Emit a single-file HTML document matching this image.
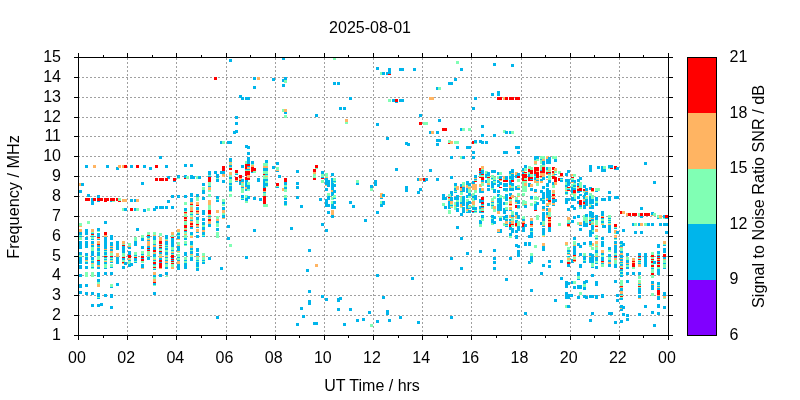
<!DOCTYPE html>
<html><head><meta charset="utf-8"><title>plot</title>
<style>
html,body{margin:0;padding:0;background:#fff;}
body{width:800px;height:400px;overflow:hidden;position:relative;font-family:"Liberation Sans",sans-serif;}
svg{position:absolute;left:0;top:0;}
text{font-family:"Liberation Sans",sans-serif;font-size:16px;fill:#000;}
</style></head><body>
<svg width="800" height="400" viewBox="0 0 800 400">
<rect width="800" height="400" fill="#fff"/>

<g stroke="#a0a0a0" stroke-width="1" stroke-dasharray="2,2" shape-rendering="crispEdges" fill="none">
<line x1="78" y1="315.5" x2="668" y2="315.5"/>
<line x1="78" y1="295.5" x2="668" y2="295.5"/>
<line x1="78" y1="275.5" x2="668" y2="275.5"/>
<line x1="78" y1="256.5" x2="668" y2="256.5"/>
<line x1="78" y1="236.5" x2="668" y2="236.5"/>
<line x1="78" y1="216.5" x2="668" y2="216.5"/>
<line x1="78" y1="196.5" x2="668" y2="196.5"/>
<line x1="78" y1="176.5" x2="668" y2="176.5"/>
<line x1="78" y1="156.5" x2="668" y2="156.5"/>
<line x1="78" y1="136.5" x2="668" y2="136.5"/>
<line x1="78" y1="117.5" x2="668" y2="117.5"/>
<line x1="78" y1="97.5" x2="668" y2="97.5"/>
<line x1="78" y1="77.5" x2="668" y2="77.5"/>
<line x1="127.5" y1="336" x2="127.5" y2="57"/>
<line x1="176.5" y1="336" x2="176.5" y2="57"/>
<line x1="226.5" y1="336" x2="226.5" y2="57"/>
<line x1="275.5" y1="336" x2="275.5" y2="57"/>
<line x1="324.5" y1="336" x2="324.5" y2="57"/>
<line x1="373.5" y1="336" x2="373.5" y2="57"/>
<line x1="422.5" y1="336" x2="422.5" y2="57"/>
<line x1="471.5" y1="336" x2="471.5" y2="57"/>
<line x1="521.5" y1="336" x2="521.5" y2="57"/>
<line x1="570.5" y1="336" x2="570.5" y2="57"/>
<line x1="619.5" y1="336" x2="619.5" y2="57"/>
</g>
<g shape-rendering="crispEdges" id="pts">
<rect x="214" y="77" width="3" height="3" fill="#ff0000"/>
<rect x="229" y="59" width="3" height="3" fill="#00b5eb"/>
<rect x="233" y="131" width="3" height="3" fill="#00b5eb"/>
<rect x="282" y="57" width="3" height="3" fill="#00b5eb"/>
<rect x="333" y="57" width="3" height="3" fill="#80ffb4"/>
<rect x="376" y="67" width="3" height="3" fill="#00b5eb"/>
<rect x="380" y="72" width="3" height="3" fill="#80ffb4"/>
<rect x="382" y="72" width="3" height="3" fill="#00b5eb"/>
<rect x="253" y="77" width="3" height="3" fill="#00b5eb"/>
<rect x="257" y="77" width="3" height="3" fill="#ffb462"/>
<rect x="272" y="78" width="3" height="3" fill="#00b5eb"/>
<rect x="282" y="79" width="3" height="3" fill="#00b5eb"/>
<rect x="284" y="80" width="3" height="3" fill="#80ffb4"/>
<rect x="284" y="77" width="3" height="3" fill="#00b5eb"/>
<rect x="282" y="84" width="3" height="3" fill="#00b5eb"/>
<rect x="253" y="86" width="3" height="3" fill="#00b5eb"/>
<rect x="333" y="82" width="3" height="3" fill="#00b5eb"/>
<rect x="337" y="82" width="3" height="3" fill="#00b5eb"/>
<rect x="239" y="95" width="3" height="3" fill="#00b5eb"/>
<rect x="241" y="97" width="3" height="3" fill="#00b5eb"/>
<rect x="245" y="97" width="5" height="3" fill="#00b5eb"/>
<rect x="349" y="97" width="3" height="3" fill="#00b5eb"/>
<rect x="339" y="107" width="3" height="3" fill="#00b5eb"/>
<rect x="343" y="107" width="3" height="3" fill="#00b5eb"/>
<rect x="282" y="109" width="3" height="3" fill="#80ffb4"/>
<rect x="284" y="111" width="3" height="3" fill="#00b5eb"/>
<rect x="284" y="109" width="3" height="3" fill="#ffb462"/>
<rect x="284" y="115" width="3" height="3" fill="#80ffb4"/>
<rect x="315" y="114" width="3" height="3" fill="#00b5eb"/>
<rect x="345" y="121" width="3" height="3" fill="#80ffb4"/>
<rect x="345" y="119" width="3" height="3" fill="#ffb462"/>
<rect x="235" y="116" width="3" height="3" fill="#00b5eb"/>
<rect x="235" y="122" width="3" height="3" fill="#00b5eb"/>
<rect x="235" y="130" width="3" height="3" fill="#00b5eb"/>
<rect x="386" y="72" width="3" height="3" fill="#00b5eb"/>
<rect x="388" y="72" width="3" height="3" fill="#ff0000"/>
<rect x="388" y="68" width="3" height="6" fill="#00b5eb"/>
<rect x="399" y="68" width="5" height="3" fill="#00b5eb"/>
<rect x="413" y="68" width="3" height="3" fill="#00b5eb"/>
<rect x="448" y="82" width="3" height="3" fill="#00b5eb"/>
<rect x="436" y="87" width="3" height="3" fill="#00b5eb"/>
<rect x="438" y="87" width="3" height="3" fill="#80ffb4"/>
<rect x="456" y="61" width="3" height="3" fill="#80ffb4"/>
<rect x="460" y="68" width="3" height="3" fill="#00b5eb"/>
<rect x="454" y="78" width="3" height="3" fill="#00b5eb"/>
<rect x="493" y="63" width="3" height="3" fill="#00b5eb"/>
<rect x="511" y="64" width="3" height="3" fill="#00b5eb"/>
<rect x="491" y="93" width="3" height="3" fill="#00b5eb"/>
<rect x="497" y="91" width="3" height="5" fill="#00b5eb"/>
<rect x="388" y="99" width="3" height="3" fill="#80ffb4"/>
<rect x="392" y="99" width="3" height="3" fill="#00b5eb"/>
<rect x="395" y="100" width="3" height="3" fill="#00b5eb"/>
<rect x="395" y="99" width="3" height="3" fill="#ff0000"/>
<rect x="399" y="99" width="5" height="3" fill="#00b5eb"/>
<rect x="429" y="97" width="5" height="3" fill="#ffb462"/>
<rect x="419" y="114" width="3" height="3" fill="#00b5eb"/>
<rect x="376" y="123" width="3" height="3" fill="#00b5eb"/>
<rect x="423" y="122" width="5" height="3" fill="#80ffb4"/>
<rect x="419" y="122" width="3" height="3" fill="#ff0000"/>
<rect x="438" y="119" width="3" height="3" fill="#00b5eb"/>
<rect x="442" y="128" width="5" height="3" fill="#ff0000"/>
<rect x="429" y="131" width="3" height="3" fill="#00b5eb"/>
<rect x="431" y="131" width="3" height="3" fill="#ffb462"/>
<rect x="436" y="131" width="3" height="3" fill="#00b5eb"/>
<rect x="474" y="97" width="3" height="3" fill="#00b5eb"/>
<rect x="497" y="97" width="5" height="3" fill="#ff0000"/>
<rect x="503" y="97" width="3" height="3" fill="#ffb462"/>
<rect x="505" y="97" width="3" height="3" fill="#ff0000"/>
<rect x="509" y="97" width="5" height="3" fill="#ff0000"/>
<rect x="515" y="97" width="5" height="3" fill="#ff0000"/>
<rect x="472" y="107" width="3" height="3" fill="#00b5eb"/>
<rect x="481" y="125" width="3" height="3" fill="#00b5eb"/>
<rect x="460" y="128" width="3" height="3" fill="#00b5eb"/>
<rect x="462" y="128" width="3" height="3" fill="#80ffb4"/>
<rect x="468" y="128" width="3" height="3" fill="#80ffb4"/>
<rect x="503" y="130" width="3" height="3" fill="#80ffb4"/>
<rect x="505" y="131" width="3" height="3" fill="#00b5eb"/>
<rect x="509" y="131" width="3" height="3" fill="#00b5eb"/>
<rect x="511" y="131" width="3" height="3" fill="#80ffb4"/>
<rect x="481" y="134" width="3" height="3" fill="#00b5eb"/>
<rect x="493" y="134" width="3" height="3" fill="#00b5eb"/>
<rect x="85" y="165" width="3" height="3" fill="#00b5eb"/>
<rect x="93" y="165" width="3" height="3" fill="#ffb462"/>
<rect x="106" y="165" width="3" height="3" fill="#00b5eb"/>
<rect x="116" y="167" width="3" height="3" fill="#00b5eb"/>
<rect x="118" y="165" width="3" height="3" fill="#ffb462"/>
<rect x="122" y="165" width="3" height="3" fill="#ffb462"/>
<rect x="124" y="165" width="3" height="3" fill="#ff0000"/>
<rect x="130" y="165" width="3" height="3" fill="#00b5eb"/>
<rect x="136" y="165" width="3" height="3" fill="#ff0000"/>
<rect x="143" y="165" width="3" height="3" fill="#00b5eb"/>
<rect x="149" y="167" width="3" height="3" fill="#00b5eb"/>
<rect x="155" y="165" width="3" height="3" fill="#ff0000"/>
<rect x="159" y="156" width="3" height="3" fill="#00b5eb"/>
<rect x="165" y="165" width="3" height="3" fill="#00b5eb"/>
<rect x="184" y="164" width="3" height="3" fill="#00b5eb"/>
<rect x="190" y="164" width="3" height="3" fill="#00b5eb"/>
<rect x="220" y="141" width="3" height="3" fill="#00b5eb"/>
<rect x="222" y="141" width="3" height="3" fill="#80ffb4"/>
<rect x="227" y="141" width="5" height="3" fill="#00b5eb"/>
<rect x="208" y="171" width="3" height="5" fill="#00b5eb"/>
<rect x="214" y="171" width="3" height="3" fill="#00b5eb"/>
<rect x="216" y="174" width="3" height="3" fill="#00b5eb"/>
<rect x="220" y="171" width="5" height="3" fill="#00b5eb"/>
<rect x="222" y="166" width="3" height="5" fill="#ff0000"/>
<rect x="229" y="158" width="3" height="4" fill="#00b5eb"/>
<rect x="229" y="162" width="3" height="1" fill="#ffb462"/>
<rect x="229" y="163" width="3" height="1" fill="#80ffb4"/>
<rect x="229" y="164" width="3" height="1" fill="#ffb462"/>
<rect x="229" y="165" width="3" height="2" fill="#00b5eb"/>
<rect x="229" y="167" width="3" height="1" fill="#80ffb4"/>
<rect x="229" y="168" width="3" height="2" fill="#ff0000"/>
<rect x="229" y="172" width="3" height="3" fill="#ffb462"/>
<rect x="245" y="145" width="3" height="3" fill="#00b5eb"/>
<rect x="247" y="146" width="3" height="3" fill="#00b5eb"/>
<rect x="247" y="152" width="3" height="3" fill="#00b5eb"/>
<rect x="245" y="161" width="3" height="3" fill="#80ffb4"/>
<rect x="247" y="157" width="3" height="7" fill="#00b5eb"/>
<rect x="241" y="165" width="3" height="3" fill="#00b5eb"/>
<rect x="245" y="164" width="5" height="5" fill="#ff0000"/>
<rect x="247" y="166" width="3" height="1" fill="#00b5eb"/>
<rect x="247" y="167" width="3" height="2" fill="#ffb462"/>
<rect x="245" y="169" width="5" height="1" fill="#00b5eb"/>
<rect x="245" y="170" width="5" height="1" fill="#80ffb4"/>
<rect x="245" y="171" width="5" height="5" fill="#ff0000"/>
<rect x="235" y="170" width="3" height="3" fill="#ff0000"/>
<rect x="235" y="173" width="3" height="1" fill="#80ffb4"/>
<rect x="235" y="174" width="3" height="1" fill="#00b5eb"/>
<rect x="251" y="161" width="3" height="3" fill="#00b5eb"/>
<rect x="251" y="164" width="3" height="1" fill="#80ffb4"/>
<rect x="251" y="165" width="3" height="2" fill="#ffb462"/>
<rect x="251" y="167" width="3" height="5" fill="#ff0000"/>
<rect x="251" y="172" width="3" height="1" fill="#00b5eb"/>
<rect x="253" y="168" width="3" height="3" fill="#ff0000"/>
<rect x="253" y="171" width="3" height="2" fill="#80ffb4"/>
<rect x="265" y="160" width="3" height="3" fill="#00b5eb"/>
<rect x="263" y="163" width="5" height="3" fill="#80ffb4"/>
<rect x="263" y="166" width="5" height="2" fill="#ffb462"/>
<rect x="263" y="168" width="5" height="3" fill="#00b5eb"/>
<rect x="263" y="171" width="5" height="3" fill="#80ffb4"/>
<rect x="263" y="174" width="3" height="3" fill="#ff0000"/>
<rect x="265" y="174" width="3" height="3" fill="#00b5eb"/>
<rect x="272" y="166" width="3" height="3" fill="#00b5eb"/>
<rect x="276" y="162" width="3" height="3" fill="#00b5eb"/>
<rect x="276" y="167" width="3" height="3" fill="#80ffb4"/>
<rect x="276" y="170" width="3" height="1" fill="#ffb462"/>
<rect x="276" y="171" width="3" height="1" fill="#00b5eb"/>
<rect x="296" y="170" width="3" height="3" fill="#00b5eb"/>
<rect x="313" y="169" width="3" height="3" fill="#ff0000"/>
<rect x="313" y="172" width="3" height="2" fill="#ffb462"/>
<rect x="313" y="174" width="3" height="1" fill="#80ffb4"/>
<rect x="386" y="137" width="3" height="3" fill="#00b5eb"/>
<rect x="315" y="168" width="3" height="1" fill="#80ffb4"/>
<rect x="315" y="165" width="3" height="3" fill="#ff0000"/>
<rect x="321" y="174" width="3" height="1" fill="#80ffb4"/>
<rect x="321" y="171" width="3" height="3" fill="#00b5eb"/>
<rect x="325" y="173" width="3" height="3" fill="#80ffb4"/>
<rect x="331" y="173" width="3" height="3" fill="#00b5eb"/>
<rect x="405" y="142" width="3" height="3" fill="#00b5eb"/>
<rect x="407" y="143" width="3" height="3" fill="#00b5eb"/>
<rect x="436" y="139" width="5" height="3" fill="#00b5eb"/>
<rect x="436" y="143" width="3" height="3" fill="#00b5eb"/>
<rect x="448" y="143" width="3" height="1" fill="#ff0000"/>
<rect x="448" y="140" width="3" height="3" fill="#80ffb4"/>
<rect x="450" y="141" width="3" height="3" fill="#ffb462"/>
<rect x="454" y="141" width="5" height="3" fill="#80ffb4"/>
<rect x="472" y="141" width="3" height="3" fill="#ff0000"/>
<rect x="474" y="143" width="3" height="1" fill="#80ffb4"/>
<rect x="474" y="140" width="3" height="3" fill="#00b5eb"/>
<rect x="456" y="146" width="3" height="3" fill="#00b5eb"/>
<rect x="466" y="146" width="5" height="3" fill="#00b5eb"/>
<rect x="472" y="151" width="3" height="3" fill="#00b5eb"/>
<rect x="450" y="156" width="3" height="3" fill="#00b5eb"/>
<rect x="460" y="156" width="3" height="3" fill="#80ffb4"/>
<rect x="462" y="156" width="3" height="3" fill="#00b5eb"/>
<rect x="472" y="156" width="3" height="3" fill="#00b5eb"/>
<rect x="395" y="168" width="3" height="3" fill="#00b5eb"/>
<rect x="429" y="169" width="3" height="3" fill="#00b5eb"/>
<rect x="479" y="140" width="3" height="3" fill="#00b5eb"/>
<rect x="481" y="141" width="3" height="3" fill="#00b5eb"/>
<rect x="485" y="141" width="3" height="3" fill="#00b5eb"/>
<rect x="515" y="146" width="5" height="3" fill="#00b5eb"/>
<rect x="503" y="151" width="5" height="3" fill="#00b5eb"/>
<rect x="517" y="151" width="3" height="3" fill="#00b5eb"/>
<rect x="589" y="165" width="3" height="7" fill="#00b5eb"/>
<rect x="597" y="166" width="3" height="3" fill="#00b5eb"/>
<rect x="601" y="166" width="5" height="6" fill="#00b5eb"/>
<rect x="603" y="166" width="3" height="3" fill="#80ffb4"/>
<rect x="608" y="168" width="3" height="1" fill="#80ffb4"/>
<rect x="610" y="168" width="3" height="1" fill="#ff0000"/>
<rect x="608" y="165" width="5" height="3" fill="#00b5eb"/>
<rect x="614" y="169" width="3" height="1" fill="#00b5eb"/>
<rect x="614" y="166" width="3" height="3" fill="#ff0000"/>
<rect x="616" y="167" width="3" height="3" fill="#00b5eb"/>
<rect x="644" y="162" width="3" height="3" fill="#00b5eb"/>
<rect x="79" y="183" width="3" height="3" fill="#ffb462"/>
<rect x="81" y="183" width="3" height="3" fill="#00b5eb"/>
<rect x="79" y="190" width="3" height="3" fill="#00b5eb"/>
<rect x="87" y="194" width="3" height="3" fill="#00b5eb"/>
<rect x="141" y="182" width="3" height="3" fill="#00b5eb"/>
<rect x="85" y="198" width="5" height="3" fill="#ff0000"/>
<rect x="91" y="198" width="3" height="7" fill="#00b5eb"/>
<rect x="93" y="198" width="3" height="3" fill="#ff0000"/>
<rect x="97" y="195" width="3" height="3" fill="#00b5eb"/>
<rect x="97" y="201" width="3" height="1" fill="#00b5eb"/>
<rect x="97" y="198" width="6" height="3" fill="#ff0000"/>
<rect x="104" y="198" width="5" height="3" fill="#ff0000"/>
<rect x="104" y="201" width="3" height="1" fill="#ff0000"/>
<rect x="110" y="198" width="5" height="3" fill="#ff0000"/>
<rect x="110" y="201" width="2" height="1" fill="#00b5eb"/>
<rect x="112" y="201" width="3" height="1" fill="#80ffb4"/>
<rect x="116" y="198" width="3" height="3" fill="#ff0000"/>
<rect x="118" y="198" width="3" height="3" fill="#80ffb4"/>
<rect x="118" y="201" width="3" height="1" fill="#ff0000"/>
<rect x="122" y="199" width="5" height="3" fill="#ffb462"/>
<rect x="130" y="199" width="3" height="3" fill="#00b5eb"/>
<rect x="134" y="199" width="3" height="3" fill="#00b5eb"/>
<rect x="136" y="199" width="3" height="3" fill="#ffb462"/>
<rect x="122" y="208" width="3" height="3" fill="#80ffb4"/>
<rect x="124" y="208" width="3" height="3" fill="#00b5eb"/>
<rect x="130" y="208" width="3" height="3" fill="#ff0000"/>
<rect x="134" y="208" width="3" height="3" fill="#00b5eb"/>
<rect x="136" y="208" width="3" height="3" fill="#80ffb4"/>
<rect x="143" y="209" width="3" height="3" fill="#00b5eb"/>
<rect x="147" y="208" width="3" height="3" fill="#80ffb4"/>
<rect x="153" y="208" width="3" height="3" fill="#00b5eb"/>
<rect x="167" y="176" width="3" height="3" fill="#00b5eb"/>
<rect x="155" y="178" width="3" height="3" fill="#ff0000"/>
<rect x="159" y="178" width="5" height="3" fill="#ff0000"/>
<rect x="165" y="178" width="3" height="3" fill="#ff0000"/>
<rect x="173" y="181" width="3" height="1" fill="#00b5eb"/>
<rect x="173" y="178" width="3" height="3" fill="#ff0000"/>
<rect x="177" y="178" width="3" height="1" fill="#80ffb4"/>
<rect x="177" y="175" width="3" height="3" fill="#00b5eb"/>
<rect x="184" y="178" width="2" height="1" fill="#ff0000"/>
<rect x="184" y="175" width="3" height="3" fill="#00b5eb"/>
<rect x="186" y="176" width="3" height="3" fill="#80ffb4"/>
<rect x="190" y="176" width="5" height="3" fill="#00b5eb"/>
<rect x="190" y="175" width="3" height="1" fill="#00b5eb"/>
<rect x="196" y="176" width="3" height="3" fill="#80ffb4"/>
<rect x="198" y="176" width="3" height="3" fill="#00b5eb"/>
<rect x="208" y="175" width="3" height="1" fill="#80ffb4"/>
<rect x="208" y="176" width="3" height="1" fill="#00b5eb"/>
<rect x="208" y="177" width="3" height="5" fill="#ff0000"/>
<rect x="208" y="182" width="3" height="4" fill="#80ffb4"/>
<rect x="208" y="186" width="3" height="1" fill="#00b5eb"/>
<rect x="208" y="187" width="3" height="3" fill="#ffb462"/>
<rect x="208" y="190" width="3" height="2" fill="#80ffb4"/>
<rect x="208" y="194" width="3" height="3" fill="#80ffb4"/>
<rect x="216" y="175" width="3" height="3" fill="#00b5eb"/>
<rect x="216" y="178" width="3" height="1" fill="#80ffb4"/>
<rect x="216" y="179" width="3" height="3" fill="#00b5eb"/>
<rect x="222" y="174" width="3" height="3" fill="#ffb462"/>
<rect x="222" y="180" width="3" height="3" fill="#00b5eb"/>
<rect x="229" y="175" width="3" height="2" fill="#80ffb4"/>
<rect x="229" y="177" width="3" height="2" fill="#00b5eb"/>
<rect x="229" y="179" width="3" height="4" fill="#80ffb4"/>
<rect x="229" y="183" width="3" height="2" fill="#00b5eb"/>
<rect x="229" y="185" width="3" height="1" fill="#80ffb4"/>
<rect x="229" y="186" width="3" height="5" fill="#00b5eb"/>
<rect x="229" y="191" width="3" height="1" fill="#80ffb4"/>
<rect x="229" y="194" width="3" height="3" fill="#80ffb4"/>
<rect x="202" y="183" width="3" height="3" fill="#00b5eb"/>
<rect x="202" y="187" width="3" height="3" fill="#80ffb4"/>
<rect x="202" y="190" width="3" height="4" fill="#00b5eb"/>
<rect x="171" y="195" width="3" height="3" fill="#00b5eb"/>
<rect x="177" y="195" width="3" height="3" fill="#00b5eb"/>
<rect x="184" y="195" width="3" height="3" fill="#00b5eb"/>
<rect x="190" y="193" width="3" height="4" fill="#00b5eb"/>
<rect x="190" y="198" width="3" height="4" fill="#00b5eb"/>
<rect x="190" y="202" width="3" height="2" fill="#ffb462"/>
<rect x="190" y="204" width="3" height="1" fill="#ff0000"/>
<rect x="190" y="205" width="3" height="2" fill="#80ffb4"/>
<rect x="190" y="207" width="3" height="4" fill="#ffb462"/>
<rect x="190" y="211" width="3" height="1" fill="#ff0000"/>
<rect x="190" y="212" width="3" height="2" fill="#80ffb4"/>
<rect x="190" y="214" width="3" height="1" fill="#00b5eb"/>
<rect x="196" y="194" width="3" height="3" fill="#00b5eb"/>
<rect x="196" y="197" width="3" height="4" fill="#80ffb4"/>
<rect x="196" y="202" width="3" height="3" fill="#ffb462"/>
<rect x="196" y="205" width="3" height="1" fill="#ff0000"/>
<rect x="196" y="207" width="3" height="3" fill="#00b5eb"/>
<rect x="196" y="210" width="3" height="1" fill="#ffb462"/>
<rect x="196" y="211" width="3" height="1" fill="#ff0000"/>
<rect x="196" y="212" width="3" height="2" fill="#ffb462"/>
<rect x="196" y="214" width="3" height="1" fill="#00b5eb"/>
<rect x="202" y="197" width="3" height="3" fill="#00b5eb"/>
<rect x="202" y="210" width="3" height="5" fill="#00b5eb"/>
<rect x="208" y="200" width="3" height="5" fill="#ffb462"/>
<rect x="208" y="205" width="3" height="5" fill="#80ffb4"/>
<rect x="208" y="210" width="3" height="4" fill="#ff0000"/>
<rect x="208" y="214" width="3" height="1" fill="#ffb462"/>
<rect x="216" y="196" width="3" height="3" fill="#00b5eb"/>
<rect x="216" y="199" width="3" height="1" fill="#80ffb4"/>
<rect x="216" y="200" width="3" height="2" fill="#00b5eb"/>
<rect x="216" y="210" width="3" height="3" fill="#ffb462"/>
<rect x="222" y="199" width="3" height="3" fill="#80ffb4"/>
<rect x="222" y="202" width="3" height="2" fill="#00b5eb"/>
<rect x="222" y="204" width="3" height="2" fill="#80ffb4"/>
<rect x="222" y="207" width="3" height="3" fill="#00b5eb"/>
<rect x="222" y="210" width="3" height="3" fill="#ffb462"/>
<rect x="222" y="213" width="3" height="2" fill="#80ffb4"/>
<rect x="167" y="200" width="3" height="3" fill="#00b5eb"/>
<rect x="155" y="206" width="3" height="3" fill="#00b5eb"/>
<rect x="153" y="209" width="3" height="2" fill="#00b5eb"/>
<rect x="159" y="206" width="5" height="3" fill="#00b5eb"/>
<rect x="165" y="206" width="3" height="3" fill="#00b5eb"/>
<rect x="171" y="206" width="3" height="3" fill="#00b5eb"/>
<rect x="184" y="202" width="3" height="3" fill="#80ffb4"/>
<rect x="184" y="208" width="3" height="3" fill="#00b5eb"/>
<rect x="184" y="211" width="3" height="1" fill="#80ffb4"/>
<rect x="184" y="212" width="3" height="1" fill="#ff0000"/>
<rect x="184" y="213" width="3" height="1" fill="#ffb462"/>
<rect x="184" y="214" width="3" height="1" fill="#80ffb4"/>
<rect x="235" y="177" width="3" height="3" fill="#ff0000"/>
<rect x="235" y="180" width="3" height="1" fill="#ffb462"/>
<rect x="235" y="181" width="3" height="1" fill="#00b5eb"/>
<rect x="239" y="181" width="3" height="4" fill="#00b5eb"/>
<rect x="239" y="175" width="3" height="3" fill="#ff0000"/>
<rect x="239" y="178" width="3" height="2" fill="#ffb462"/>
<rect x="239" y="180" width="3" height="1" fill="#ff0000"/>
<rect x="241" y="179" width="3" height="3" fill="#00b5eb"/>
<rect x="241" y="182" width="3" height="1" fill="#ffb462"/>
<rect x="241" y="183" width="3" height="3" fill="#80ffb4"/>
<rect x="241" y="186" width="3" height="1" fill="#ffb462"/>
<rect x="241" y="187" width="3" height="1" fill="#00b5eb"/>
<rect x="241" y="188" width="3" height="5" fill="#80ffb4"/>
<rect x="241" y="195" width="3" height="3" fill="#00b5eb"/>
<rect x="241" y="198" width="3" height="1" fill="#80ffb4"/>
<rect x="241" y="199" width="3" height="1" fill="#00b5eb"/>
<rect x="245" y="177" width="3" height="3" fill="#ff0000"/>
<rect x="245" y="180" width="3" height="7" fill="#00b5eb"/>
<rect x="245" y="187" width="3" height="2" fill="#ffb462"/>
<rect x="245" y="189" width="3" height="2" fill="#00b5eb"/>
<rect x="245" y="195" width="3" height="3" fill="#80ffb4"/>
<rect x="245" y="198" width="3" height="3" fill="#00b5eb"/>
<rect x="245" y="201" width="3" height="2" fill="#80ffb4"/>
<rect x="247" y="175" width="3" height="3" fill="#ffb462"/>
<rect x="247" y="178" width="3" height="2" fill="#ff0000"/>
<rect x="247" y="182" width="3" height="3" fill="#80ffb4"/>
<rect x="247" y="185" width="3" height="4" fill="#00b5eb"/>
<rect x="247" y="189" width="3" height="2" fill="#80ffb4"/>
<rect x="247" y="196" width="3" height="3" fill="#00b5eb"/>
<rect x="257" y="178" width="3" height="4" fill="#00b5eb"/>
<rect x="253" y="197" width="3" height="3" fill="#00b5eb"/>
<rect x="259" y="198" width="3" height="3" fill="#00b5eb"/>
<rect x="263" y="175" width="5" height="2" fill="#80ffb4"/>
<rect x="263" y="177" width="5" height="2" fill="#80ffb4"/>
<rect x="265" y="176" width="3" height="1" fill="#ffb462"/>
<rect x="263" y="179" width="3" height="6" fill="#00b5eb"/>
<rect x="263" y="185" width="3" height="3" fill="#00b5eb"/>
<rect x="263" y="188" width="3" height="3" fill="#ff0000"/>
<rect x="263" y="191" width="3" height="1" fill="#ffb462"/>
<rect x="263" y="192" width="3" height="1" fill="#00b5eb"/>
<rect x="263" y="193" width="3" height="3" fill="#80ffb4"/>
<rect x="263" y="196" width="3" height="8" fill="#ff0000"/>
<rect x="263" y="204" width="3" height="1" fill="#00b5eb"/>
<rect x="265" y="179" width="3" height="2" fill="#00b5eb"/>
<rect x="265" y="181" width="3" height="2" fill="#80ffb4"/>
<rect x="265" y="183" width="3" height="3" fill="#00b5eb"/>
<rect x="265" y="186" width="3" height="1" fill="#80ffb4"/>
<rect x="263" y="204" width="5" height="3" fill="#80ffb4"/>
<rect x="278" y="175" width="3" height="3" fill="#00b5eb"/>
<rect x="276" y="183" width="3" height="3" fill="#ff0000"/>
<rect x="276" y="186" width="3" height="1" fill="#80ffb4"/>
<rect x="276" y="187" width="3" height="1" fill="#00b5eb"/>
<rect x="284" y="178" width="3" height="4" fill="#ff0000"/>
<rect x="284" y="182" width="3" height="3" fill="#00b5eb"/>
<rect x="284" y="185" width="3" height="2" fill="#80ffb4"/>
<rect x="284" y="187" width="3" height="2" fill="#00b5eb"/>
<rect x="284" y="189" width="3" height="3" fill="#80ffb4"/>
<rect x="284" y="195" width="3" height="3" fill="#80ffb4"/>
<rect x="284" y="198" width="3" height="2" fill="#00b5eb"/>
<rect x="284" y="201" width="3" height="4" fill="#00b5eb"/>
<rect x="284" y="205" width="3" height="1" fill="#80ffb4"/>
<rect x="282" y="188" width="2" height="3" fill="#ffb462"/>
<rect x="296" y="182" width="3" height="3" fill="#00b5eb"/>
<rect x="296" y="186" width="3" height="3" fill="#00b5eb"/>
<rect x="296" y="196" width="3" height="3" fill="#00b5eb"/>
<rect x="300" y="205" width="3" height="3" fill="#00b5eb"/>
<rect x="313" y="175" width="3" height="3" fill="#80ffb4"/>
<rect x="313" y="178" width="3" height="2" fill="#ff0000"/>
<rect x="321" y="175" width="3" height="2" fill="#80ffb4"/>
<rect x="321" y="177" width="3" height="1" fill="#00b5eb"/>
<rect x="321" y="178" width="3" height="1" fill="#ff0000"/>
<rect x="321" y="180" width="3" height="3" fill="#80ffb4"/>
<rect x="325" y="175" width="3" height="2" fill="#80ffb4"/>
<rect x="325" y="177" width="3" height="1" fill="#ffb462"/>
<rect x="325" y="178" width="3" height="7" fill="#00b5eb"/>
<rect x="325" y="185" width="3" height="1" fill="#ffb462"/>
<rect x="325" y="188" width="3" height="3" fill="#00b5eb"/>
<rect x="325" y="199" width="3" height="8" fill="#00b5eb"/>
<rect x="327" y="180" width="3" height="7" fill="#00b5eb"/>
<rect x="327" y="193" width="3" height="3" fill="#80ffb4"/>
<rect x="327" y="196" width="3" height="4" fill="#00b5eb"/>
<rect x="327" y="204" width="3" height="3" fill="#00b5eb"/>
<rect x="327" y="211" width="3" height="3" fill="#00b5eb"/>
<rect x="319" y="198" width="3" height="3" fill="#00b5eb"/>
<rect x="331" y="178" width="3" height="12" fill="#00b5eb"/>
<rect x="331" y="190" width="3" height="2" fill="#ffb462"/>
<rect x="331" y="192" width="3" height="4" fill="#00b5eb"/>
<rect x="331" y="197" width="3" height="3" fill="#80ffb4"/>
<rect x="331" y="201" width="3" height="3" fill="#80ffb4"/>
<rect x="331" y="204" width="3" height="5" fill="#00b5eb"/>
<rect x="331" y="210" width="3" height="5" fill="#ffb462"/>
<rect x="333" y="178" width="3" height="3" fill="#80ffb4"/>
<rect x="333" y="181" width="3" height="1" fill="#00b5eb"/>
<rect x="333" y="182" width="3" height="1" fill="#80ffb4"/>
<rect x="333" y="184" width="3" height="3" fill="#00b5eb"/>
<rect x="333" y="190" width="3" height="3" fill="#00b5eb"/>
<rect x="333" y="195" width="3" height="3" fill="#80ffb4"/>
<rect x="333" y="198" width="3" height="1" fill="#00b5eb"/>
<rect x="333" y="201" width="3" height="3" fill="#00b5eb"/>
<rect x="333" y="206" width="3" height="3" fill="#00b5eb"/>
<rect x="356" y="180" width="3" height="3" fill="#80ffb4"/>
<rect x="356" y="183" width="3" height="2" fill="#00b5eb"/>
<rect x="374" y="180" width="3" height="6" fill="#00b5eb"/>
<rect x="370" y="185" width="3" height="3" fill="#00b5eb"/>
<rect x="370" y="188" width="3" height="3" fill="#80ffb4"/>
<rect x="380" y="193" width="3" height="5" fill="#ffb462"/>
<rect x="382" y="194" width="3" height="3" fill="#00b5eb"/>
<rect x="380" y="198" width="3" height="1" fill="#00b5eb"/>
<rect x="380" y="201" width="3" height="3" fill="#80ffb4"/>
<rect x="382" y="201" width="3" height="4" fill="#00b5eb"/>
<rect x="380" y="204" width="3" height="3" fill="#00b5eb"/>
<rect x="349" y="201" width="3" height="3" fill="#00b5eb"/>
<rect x="352" y="205" width="3" height="3" fill="#00b5eb"/>
<rect x="376" y="211" width="3" height="3" fill="#00b5eb"/>
<rect x="417" y="178" width="3" height="3" fill="#00b5eb"/>
<rect x="419" y="178" width="3" height="3" fill="#ffb462"/>
<rect x="423" y="181" width="3" height="1" fill="#00b5eb"/>
<rect x="423" y="178" width="3" height="3" fill="#ff0000"/>
<rect x="425" y="178" width="3" height="3" fill="#00b5eb"/>
<rect x="436" y="178" width="3" height="3" fill="#00b5eb"/>
<rect x="450" y="176" width="3" height="3" fill="#00b5eb"/>
<rect x="405" y="186" width="3" height="6" fill="#00b5eb"/>
<rect x="419" y="188" width="3" height="3" fill="#00b5eb"/>
<rect x="417" y="191" width="3" height="3" fill="#00b5eb"/>
<rect x="454" y="183" width="3" height="3" fill="#00b5eb"/>
<rect x="454" y="186" width="3" height="2" fill="#80ffb4"/>
<rect x="454" y="188" width="3" height="3" fill="#00b5eb"/>
<rect x="454" y="191" width="3" height="1" fill="#80ffb4"/>
<rect x="454" y="192" width="3" height="1" fill="#00b5eb"/>
<rect x="456" y="186" width="3" height="4" fill="#ffb462"/>
<rect x="450" y="191" width="3" height="5" fill="#00b5eb"/>
<rect x="442" y="194" width="3" height="3" fill="#00b5eb"/>
<rect x="448" y="194" width="3" height="3" fill="#80ffb4"/>
<rect x="460" y="184" width="3" height="3" fill="#00b5eb"/>
<rect x="460" y="187" width="3" height="1" fill="#ff0000"/>
<rect x="460" y="188" width="3" height="3" fill="#ffb462"/>
<rect x="460" y="191" width="3" height="1" fill="#00b5eb"/>
<rect x="460" y="192" width="3" height="3" fill="#80ffb4"/>
<rect x="462" y="182" width="3" height="4" fill="#80ffb4"/>
<rect x="462" y="186" width="3" height="1" fill="#ffb462"/>
<rect x="462" y="187" width="3" height="5" fill="#00b5eb"/>
<rect x="466" y="181" width="3" height="4" fill="#00b5eb"/>
<rect x="466" y="185" width="3" height="3" fill="#ffb462"/>
<rect x="466" y="188" width="3" height="5" fill="#00b5eb"/>
<rect x="468" y="183" width="3" height="3" fill="#00b5eb"/>
<rect x="468" y="186" width="3" height="1" fill="#80ffb4"/>
<rect x="468" y="187" width="3" height="2" fill="#ffb462"/>
<rect x="468" y="189" width="3" height="4" fill="#80ffb4"/>
<rect x="468" y="193" width="3" height="2" fill="#00b5eb"/>
<rect x="472" y="181" width="3" height="3" fill="#00b5eb"/>
<rect x="472" y="193" width="3" height="2" fill="#80ffb4"/>
<rect x="472" y="184" width="5" height="6" fill="#ffb462"/>
<rect x="474" y="190" width="3" height="3" fill="#80ffb4"/>
<rect x="474" y="175" width="3" height="3" fill="#00b5eb"/>
<rect x="474" y="178" width="3" height="1" fill="#ffb462"/>
<rect x="474" y="179" width="3" height="1" fill="#00b5eb"/>
<rect x="474" y="180" width="3" height="1" fill="#80ffb4"/>
<rect x="474" y="181" width="3" height="1" fill="#ff0000"/>
<rect x="479" y="168" width="3" height="3" fill="#ff0000"/>
<rect x="479" y="171" width="3" height="1" fill="#00b5eb"/>
<rect x="479" y="172" width="3" height="1" fill="#ff0000"/>
<rect x="479" y="173" width="3" height="2" fill="#00b5eb"/>
<rect x="479" y="175" width="3" height="2" fill="#80ffb4"/>
<rect x="479" y="177" width="3" height="1" fill="#ff0000"/>
<rect x="479" y="184" width="3" height="3" fill="#ffb462"/>
<rect x="479" y="188" width="3" height="5" fill="#00b5eb"/>
<rect x="481" y="166" width="3" height="3" fill="#ffb462"/>
<rect x="481" y="169" width="3" height="1" fill="#80ffb4"/>
<rect x="481" y="170" width="3" height="4" fill="#00b5eb"/>
<rect x="481" y="174" width="3" height="1" fill="#ff0000"/>
<rect x="481" y="175" width="3" height="2" fill="#80ffb4"/>
<rect x="481" y="177" width="3" height="3" fill="#ff0000"/>
<rect x="481" y="180" width="3" height="2" fill="#00b5eb"/>
<rect x="481" y="182" width="3" height="1" fill="#ffb462"/>
<rect x="481" y="183" width="3" height="3" fill="#80ffb4"/>
<rect x="481" y="188" width="3" height="3" fill="#ffb462"/>
<rect x="481" y="191" width="3" height="2" fill="#00b5eb"/>
<rect x="485" y="171" width="3" height="3" fill="#80ffb4"/>
<rect x="485" y="174" width="3" height="4" fill="#00b5eb"/>
<rect x="485" y="180" width="3" height="3" fill="#00b5eb"/>
<rect x="487" y="172" width="3" height="4" fill="#00b5eb"/>
<rect x="487" y="176" width="3" height="1" fill="#80ffb4"/>
<rect x="487" y="177" width="3" height="1" fill="#ff0000"/>
<rect x="487" y="178" width="3" height="5" fill="#80ffb4"/>
<rect x="487" y="183" width="3" height="2" fill="#ffb462"/>
<rect x="487" y="185" width="3" height="2" fill="#00b5eb"/>
<rect x="487" y="188" width="3" height="3" fill="#00b5eb"/>
<rect x="491" y="170" width="5" height="3" fill="#00b5eb"/>
<rect x="491" y="175" width="3" height="3" fill="#80ffb4"/>
<rect x="491" y="178" width="3" height="1" fill="#00b5eb"/>
<rect x="491" y="179" width="3" height="1" fill="#80ffb4"/>
<rect x="491" y="181" width="3" height="7" fill="#00b5eb"/>
<rect x="491" y="188" width="3" height="2" fill="#80ffb4"/>
<rect x="493" y="177" width="3" height="3" fill="#80ffb4"/>
<rect x="493" y="180" width="3" height="1" fill="#00b5eb"/>
<rect x="493" y="181" width="3" height="2" fill="#80ffb4"/>
<rect x="493" y="183" width="3" height="2" fill="#00b5eb"/>
<rect x="493" y="189" width="3" height="4" fill="#00b5eb"/>
<rect x="497" y="172" width="3" height="3" fill="#00b5eb"/>
<rect x="497" y="176" width="3" height="3" fill="#80ffb4"/>
<rect x="497" y="180" width="3" height="3" fill="#00b5eb"/>
<rect x="497" y="184" width="3" height="3" fill="#00b5eb"/>
<rect x="497" y="190" width="3" height="3" fill="#00b5eb"/>
<rect x="497" y="194" width="3" height="3" fill="#00b5eb"/>
<rect x="499" y="176" width="3" height="5" fill="#00b5eb"/>
<rect x="499" y="187" width="3" height="1" fill="#ff0000"/>
<rect x="499" y="172" width="3" height="3" fill="#80ffb4"/>
<rect x="499" y="182" width="3" height="3" fill="#00b5eb"/>
<rect x="499" y="180" width="3" height="1" fill="#ffb462"/>
<rect x="499" y="179" width="3" height="1" fill="#ff0000"/>
<rect x="499" y="176" width="3" height="3" fill="#00b5eb"/>
<rect x="503" y="176" width="3" height="3" fill="#ffb462"/>
<rect x="503" y="179" width="3" height="1" fill="#80ffb4"/>
<rect x="503" y="183" width="3" height="2" fill="#00b5eb"/>
<rect x="505" y="176" width="3" height="4" fill="#00b5eb"/>
<rect x="505" y="183" width="3" height="2" fill="#00b5eb"/>
<rect x="503" y="180" width="5" height="2" fill="#ff0000"/>
<rect x="509" y="171" width="3" height="3" fill="#00b5eb"/>
<rect x="509" y="174" width="3" height="2" fill="#80ffb4"/>
<rect x="509" y="176" width="3" height="3" fill="#00b5eb"/>
<rect x="509" y="179" width="3" height="1" fill="#80ffb4"/>
<rect x="509" y="180" width="3" height="5" fill="#00b5eb"/>
<rect x="511" y="169" width="3" height="4" fill="#00b5eb"/>
<rect x="511" y="173" width="3" height="1" fill="#ffb462"/>
<rect x="511" y="174" width="3" height="6" fill="#00b5eb"/>
<rect x="511" y="180" width="3" height="2" fill="#ff0000"/>
<rect x="511" y="183" width="3" height="2" fill="#00b5eb"/>
<rect x="515" y="172" width="3" height="3" fill="#ffb462"/>
<rect x="515" y="175" width="3" height="3" fill="#00b5eb"/>
<rect x="517" y="173" width="3" height="3" fill="#00b5eb"/>
<rect x="517" y="176" width="3" height="2" fill="#ff0000"/>
<rect x="517" y="179" width="3" height="3" fill="#80ffb4"/>
<rect x="522" y="168" width="3" height="3" fill="#00b5eb"/>
<rect x="522" y="171" width="3" height="1" fill="#ffb462"/>
<rect x="522" y="172" width="3" height="2" fill="#00b5eb"/>
<rect x="522" y="174" width="3" height="7" fill="#ff0000"/>
<rect x="522" y="181" width="3" height="4" fill="#80ffb4"/>
<rect x="524" y="165" width="3" height="3" fill="#00b5eb"/>
<rect x="524" y="168" width="3" height="3" fill="#80ffb4"/>
<rect x="524" y="172" width="3" height="1" fill="#ff0000"/>
<rect x="524" y="173" width="3" height="1" fill="#80ffb4"/>
<rect x="524" y="174" width="3" height="4" fill="#ff0000"/>
<rect x="524" y="178" width="3" height="2" fill="#80ffb4"/>
<rect x="524" y="180" width="3" height="1" fill="#ff0000"/>
<rect x="524" y="181" width="3" height="2" fill="#80ffb4"/>
<rect x="524" y="183" width="3" height="2" fill="#ffb462"/>
<rect x="528" y="166" width="3" height="3" fill="#80ffb4"/>
<rect x="528" y="169" width="3" height="3" fill="#ff0000"/>
<rect x="528" y="172" width="3" height="2" fill="#80ffb4"/>
<rect x="528" y="174" width="3" height="3" fill="#00b5eb"/>
<rect x="528" y="177" width="3" height="4" fill="#ff0000"/>
<rect x="528" y="183" width="3" height="2" fill="#00b5eb"/>
<rect x="530" y="167" width="3" height="3" fill="#80ffb4"/>
<rect x="530" y="170" width="3" height="4" fill="#ff0000"/>
<rect x="530" y="174" width="3" height="3" fill="#80ffb4"/>
<rect x="530" y="177" width="3" height="2" fill="#ff0000"/>
<rect x="530" y="179" width="3" height="1" fill="#00b5eb"/>
<rect x="530" y="180" width="3" height="1" fill="#ff0000"/>
<rect x="530" y="184" width="3" height="1" fill="#ffb462"/>
<rect x="534" y="156" width="5" height="3" fill="#00b5eb"/>
<rect x="534" y="159" width="3" height="1" fill="#00b5eb"/>
<rect x="534" y="160" width="3" height="1" fill="#80ffb4"/>
<rect x="534" y="161" width="3" height="3" fill="#ffb462"/>
<rect x="534" y="164" width="3" height="1" fill="#80ffb4"/>
<rect x="534" y="167" width="3" height="7" fill="#ff0000"/>
<rect x="534" y="174" width="3" height="2" fill="#00b5eb"/>
<rect x="534" y="176" width="3" height="1" fill="#80ffb4"/>
<rect x="534" y="177" width="3" height="3" fill="#00b5eb"/>
<rect x="534" y="180" width="3" height="3" fill="#ffb462"/>
<rect x="536" y="159" width="3" height="2" fill="#80ffb4"/>
<rect x="536" y="167" width="3" height="4" fill="#ff0000"/>
<rect x="536" y="171" width="3" height="1" fill="#ffb462"/>
<rect x="536" y="172" width="3" height="6" fill="#ff0000"/>
<rect x="536" y="178" width="3" height="1" fill="#80ffb4"/>
<rect x="536" y="179" width="3" height="1" fill="#ffb462"/>
<rect x="536" y="180" width="3" height="1" fill="#00b5eb"/>
<rect x="536" y="181" width="3" height="2" fill="#ffb462"/>
<rect x="536" y="183" width="3" height="2" fill="#80ffb4"/>
<rect x="540" y="156" width="5" height="3" fill="#80ffb4"/>
<rect x="540" y="159" width="3" height="1" fill="#00b5eb"/>
<rect x="540" y="160" width="3" height="4" fill="#80ffb4"/>
<rect x="540" y="165" width="3" height="5" fill="#80ffb4"/>
<rect x="540" y="170" width="3" height="1" fill="#00b5eb"/>
<rect x="540" y="171" width="3" height="2" fill="#ff0000"/>
<rect x="540" y="173" width="3" height="3" fill="#ffb462"/>
<rect x="540" y="176" width="3" height="1" fill="#ff0000"/>
<rect x="540" y="177" width="3" height="1" fill="#ffb462"/>
<rect x="540" y="179" width="3" height="2" fill="#00b5eb"/>
<rect x="540" y="181" width="3" height="2" fill="#ffb462"/>
<rect x="542" y="159" width="3" height="2" fill="#ffb462"/>
<rect x="542" y="161" width="3" height="4" fill="#00b5eb"/>
<rect x="542" y="165" width="3" height="2" fill="#80ffb4"/>
<rect x="542" y="167" width="3" height="6" fill="#ff0000"/>
<rect x="542" y="173" width="3" height="4" fill="#ffb462"/>
<rect x="542" y="177" width="3" height="3" fill="#00b5eb"/>
<rect x="546" y="156" width="3" height="3" fill="#ffb462"/>
<rect x="546" y="159" width="3" height="5" fill="#00b5eb"/>
<rect x="546" y="167" width="3" height="3" fill="#00b5eb"/>
<rect x="546" y="170" width="3" height="2" fill="#80ffb4"/>
<rect x="546" y="172" width="3" height="2" fill="#ff0000"/>
<rect x="546" y="174" width="3" height="1" fill="#ffb462"/>
<rect x="546" y="176" width="3" height="2" fill="#00b5eb"/>
<rect x="546" y="179" width="3" height="1" fill="#ffb462"/>
<rect x="546" y="183" width="3" height="2" fill="#00b5eb"/>
<rect x="548" y="157" width="3" height="7" fill="#00b5eb"/>
<rect x="548" y="167" width="3" height="3" fill="#80ffb4"/>
<rect x="548" y="170" width="3" height="1" fill="#ffb462"/>
<rect x="548" y="171" width="3" height="1" fill="#80ffb4"/>
<rect x="548" y="172" width="3" height="1" fill="#ff0000"/>
<rect x="548" y="173" width="3" height="1" fill="#00b5eb"/>
<rect x="548" y="174" width="3" height="1" fill="#ffb462"/>
<rect x="548" y="175" width="3" height="5" fill="#80ffb4"/>
<rect x="548" y="180" width="3" height="3" fill="#00b5eb"/>
<rect x="552" y="156" width="5" height="3" fill="#80ffb4"/>
<rect x="552" y="167" width="3" height="3" fill="#ff0000"/>
<rect x="552" y="171" width="3" height="2" fill="#ff0000"/>
<rect x="552" y="173" width="3" height="2" fill="#ffb462"/>
<rect x="552" y="175" width="3" height="1" fill="#80ffb4"/>
<rect x="552" y="176" width="3" height="3" fill="#ff0000"/>
<rect x="552" y="182" width="3" height="3" fill="#00b5eb"/>
<rect x="554" y="159" width="3" height="3" fill="#00b5eb"/>
<rect x="554" y="168" width="3" height="3" fill="#ffb462"/>
<rect x="554" y="171" width="3" height="2" fill="#80ffb4"/>
<rect x="554" y="174" width="3" height="1" fill="#00b5eb"/>
<rect x="554" y="177" width="3" height="5" fill="#ff0000"/>
<rect x="554" y="182" width="3" height="3" fill="#ffb462"/>
<rect x="558" y="171" width="3" height="3" fill="#80ffb4"/>
<rect x="558" y="178" width="3" height="3" fill="#ff0000"/>
<rect x="548" y="157" width="3" height="7" fill="#00b5eb"/>
<rect x="560" y="173" width="3" height="3" fill="#ff0000"/>
<rect x="560" y="176" width="3" height="1" fill="#ffb462"/>
<rect x="560" y="178" width="3" height="1" fill="#00b5eb"/>
<rect x="560" y="179" width="3" height="1" fill="#80ffb4"/>
<rect x="560" y="180" width="3" height="2" fill="#00b5eb"/>
<rect x="567" y="170" width="3" height="3" fill="#00b5eb"/>
<rect x="565" y="173" width="3" height="3" fill="#00b5eb"/>
<rect x="571" y="174" width="3" height="2" fill="#ffb462"/>
<rect x="571" y="177" width="3" height="1" fill="#ff0000"/>
<rect x="571" y="178" width="3" height="2" fill="#80ffb4"/>
<rect x="573" y="174" width="3" height="3" fill="#80ffb4"/>
<rect x="565" y="179" width="5" height="3" fill="#00b5eb"/>
<rect x="565" y="182" width="3" height="3" fill="#80ffb4"/>
<rect x="565" y="185" width="3" height="2" fill="#00b5eb"/>
<rect x="565" y="187" width="3" height="3" fill="#80ffb4"/>
<rect x="565" y="190" width="3" height="1" fill="#ffb462"/>
<rect x="565" y="191" width="3" height="1" fill="#80ffb4"/>
<rect x="565" y="192" width="3" height="2" fill="#00b5eb"/>
<rect x="565" y="194" width="3" height="1" fill="#80ffb4"/>
<rect x="567" y="182" width="3" height="4" fill="#00b5eb"/>
<rect x="567" y="187" width="3" height="1" fill="#ff0000"/>
<rect x="567" y="188" width="3" height="1" fill="#80ffb4"/>
<rect x="567" y="189" width="3" height="1" fill="#00b5eb"/>
<rect x="567" y="190" width="3" height="1" fill="#ff0000"/>
<rect x="571" y="180" width="5" height="3" fill="#00b5eb"/>
<rect x="571" y="182" width="3" height="1" fill="#ffb462"/>
<rect x="571" y="184" width="3" height="3" fill="#80ffb4"/>
<rect x="571" y="187" width="3" height="6" fill="#00b5eb"/>
<rect x="571" y="193" width="3" height="2" fill="#80ffb4"/>
<rect x="573" y="183" width="3" height="2" fill="#80ffb4"/>
<rect x="573" y="185" width="3" height="2" fill="#00b5eb"/>
<rect x="573" y="187" width="3" height="1" fill="#80ffb4"/>
<rect x="573" y="188" width="3" height="2" fill="#00b5eb"/>
<rect x="573" y="190" width="3" height="3" fill="#ff0000"/>
<rect x="573" y="193" width="3" height="1" fill="#ffb462"/>
<rect x="573" y="194" width="3" height="1" fill="#80ffb4"/>
<rect x="577" y="179" width="3" height="3" fill="#00b5eb"/>
<rect x="577" y="183" width="3" height="3" fill="#00b5eb"/>
<rect x="577" y="186" width="3" height="1" fill="#ff0000"/>
<rect x="577" y="187" width="3" height="2" fill="#ffb462"/>
<rect x="577" y="189" width="3" height="2" fill="#ff0000"/>
<rect x="577" y="191" width="3" height="2" fill="#00b5eb"/>
<rect x="579" y="177" width="3" height="3" fill="#00b5eb"/>
<rect x="579" y="182" width="3" height="6" fill="#80ffb4"/>
<rect x="579" y="188" width="3" height="3" fill="#ff0000"/>
<rect x="579" y="191" width="3" height="1" fill="#00b5eb"/>
<rect x="579" y="194" width="3" height="2" fill="#00b5eb"/>
<rect x="583" y="185" width="3" height="3" fill="#00b5eb"/>
<rect x="583" y="189" width="3" height="2" fill="#ff0000"/>
<rect x="583" y="191" width="3" height="2" fill="#80ffb4"/>
<rect x="585" y="188" width="3" height="3" fill="#00b5eb"/>
<rect x="585" y="191" width="3" height="1" fill="#ffb462"/>
<rect x="585" y="192" width="3" height="3" fill="#00b5eb"/>
<rect x="584" y="193" width="3" height="2" fill="#00b5eb"/>
<rect x="589" y="187" width="3" height="3" fill="#00b5eb"/>
<rect x="589" y="193" width="3" height="2" fill="#80ffb4"/>
<rect x="591" y="188" width="3" height="3" fill="#ff0000"/>
<rect x="591" y="191" width="3" height="1" fill="#ffb462"/>
<rect x="595" y="188" width="5" height="3" fill="#80ffb4"/>
<rect x="595" y="191" width="3" height="1" fill="#00b5eb"/>
<rect x="608" y="191" width="3" height="3" fill="#00b5eb"/>
<rect x="442" y="197" width="5" height="3" fill="#00b5eb"/>
<rect x="442" y="203" width="3" height="3" fill="#80ffb4"/>
<rect x="444" y="206" width="3" height="3" fill="#00b5eb"/>
<rect x="448" y="197" width="3" height="1" fill="#ff0000"/>
<rect x="448" y="198" width="3" height="1" fill="#ffb462"/>
<rect x="448" y="199" width="3" height="1" fill="#80ffb4"/>
<rect x="448" y="200" width="3" height="1" fill="#ffb462"/>
<rect x="448" y="201" width="3" height="8" fill="#00b5eb"/>
<rect x="448" y="210" width="3" height="4" fill="#80ffb4"/>
<rect x="450" y="197" width="3" height="4" fill="#00b5eb"/>
<rect x="450" y="201" width="3" height="3" fill="#ffb462"/>
<rect x="450" y="204" width="3" height="1" fill="#80ffb4"/>
<rect x="450" y="205" width="3" height="1" fill="#00b5eb"/>
<rect x="450" y="206" width="3" height="1" fill="#80ffb4"/>
<rect x="450" y="207" width="3" height="1" fill="#ffb462"/>
<rect x="454" y="197" width="5" height="3" fill="#00b5eb"/>
<rect x="454" y="202" width="3" height="3" fill="#80ffb4"/>
<rect x="454" y="205" width="3" height="1" fill="#ffb462"/>
<rect x="454" y="206" width="3" height="4" fill="#80ffb4"/>
<rect x="456" y="195" width="3" height="2" fill="#00b5eb"/>
<rect x="456" y="200" width="3" height="2" fill="#80ffb4"/>
<rect x="456" y="202" width="3" height="5" fill="#00b5eb"/>
<rect x="456" y="208" width="3" height="4" fill="#00b5eb"/>
<rect x="460" y="196" width="3" height="1" fill="#ffb462"/>
<rect x="460" y="197" width="3" height="5" fill="#80ffb4"/>
<rect x="460" y="202" width="3" height="2" fill="#00b5eb"/>
<rect x="460" y="204" width="3" height="3" fill="#ffb462"/>
<rect x="460" y="207" width="3" height="1" fill="#80ffb4"/>
<rect x="460" y="213" width="3" height="3" fill="#00b5eb"/>
<rect x="462" y="196" width="3" height="10" fill="#00b5eb"/>
<rect x="462" y="207" width="3" height="6" fill="#00b5eb"/>
<rect x="466" y="195" width="5" height="3" fill="#00b5eb"/>
<rect x="466" y="199" width="3" height="3" fill="#80ffb4"/>
<rect x="466" y="202" width="3" height="7" fill="#00b5eb"/>
<rect x="466" y="209" width="3" height="2" fill="#ffb462"/>
<rect x="466" y="211" width="3" height="1" fill="#80ffb4"/>
<rect x="466" y="212" width="3" height="1" fill="#00b5eb"/>
<rect x="468" y="196" width="3" height="2" fill="#80ffb4"/>
<rect x="468" y="201" width="3" height="3" fill="#00b5eb"/>
<rect x="468" y="205" width="3" height="1" fill="#ffb462"/>
<rect x="468" y="206" width="3" height="2" fill="#80ffb4"/>
<rect x="468" y="208" width="3" height="1" fill="#00b5eb"/>
<rect x="468" y="210" width="3" height="3" fill="#00b5eb"/>
<rect x="472" y="195" width="3" height="1" fill="#80ffb4"/>
<rect x="472" y="196" width="3" height="2" fill="#00b5eb"/>
<rect x="472" y="198" width="3" height="3" fill="#80ffb4"/>
<rect x="472" y="201" width="3" height="4" fill="#ffb462"/>
<rect x="472" y="205" width="3" height="2" fill="#80ffb4"/>
<rect x="472" y="207" width="3" height="3" fill="#00b5eb"/>
<rect x="472" y="211" width="3" height="1" fill="#ff0000"/>
<rect x="472" y="212" width="3" height="1" fill="#00b5eb"/>
<rect x="474" y="195" width="3" height="5" fill="#00b5eb"/>
<rect x="474" y="207" width="3" height="3" fill="#00b5eb"/>
<rect x="474" y="210" width="3" height="1" fill="#80ffb4"/>
<rect x="474" y="211" width="3" height="1" fill="#00b5eb"/>
<rect x="474" y="212" width="3" height="1" fill="#80ffb4"/>
<rect x="479" y="199" width="3" height="4" fill="#00b5eb"/>
<rect x="479" y="206" width="3" height="3" fill="#00b5eb"/>
<rect x="479" y="209" width="3" height="2" fill="#80ffb4"/>
<rect x="479" y="211" width="3" height="2" fill="#00b5eb"/>
<rect x="479" y="220" width="3" height="4" fill="#00b5eb"/>
<rect x="479" y="224" width="3" height="1" fill="#80ffb4"/>
<rect x="481" y="197" width="3" height="3" fill="#ff0000"/>
<rect x="481" y="200" width="3" height="2" fill="#00b5eb"/>
<rect x="481" y="202" width="3" height="2" fill="#ff0000"/>
<rect x="481" y="204" width="3" height="1" fill="#00b5eb"/>
<rect x="481" y="205" width="3" height="1" fill="#80ffb4"/>
<rect x="481" y="206" width="3" height="1" fill="#ff0000"/>
<rect x="481" y="207" width="3" height="1" fill="#00b5eb"/>
<rect x="481" y="208" width="3" height="1" fill="#ffb462"/>
<rect x="481" y="209" width="3" height="2" fill="#80ffb4"/>
<rect x="481" y="211" width="3" height="1" fill="#ff0000"/>
<rect x="481" y="212" width="3" height="1" fill="#00b5eb"/>
<rect x="481" y="215" width="3" height="3" fill="#00b5eb"/>
<rect x="481" y="218" width="3" height="3" fill="#80ffb4"/>
<rect x="487" y="203" width="3" height="3" fill="#00b5eb"/>
<rect x="491" y="198" width="3" height="3" fill="#80ffb4"/>
<rect x="491" y="201" width="3" height="1" fill="#ffb462"/>
<rect x="491" y="202" width="3" height="1" fill="#00b5eb"/>
<rect x="491" y="203" width="3" height="2" fill="#80ffb4"/>
<rect x="491" y="205" width="3" height="1" fill="#00b5eb"/>
<rect x="491" y="206" width="3" height="3" fill="#80ffb4"/>
<rect x="491" y="215" width="3" height="3" fill="#00b5eb"/>
<rect x="491" y="218" width="3" height="1" fill="#80ffb4"/>
<rect x="491" y="219" width="3" height="4" fill="#00b5eb"/>
<rect x="491" y="223" width="3" height="2" fill="#80ffb4"/>
<rect x="493" y="196" width="3" height="3" fill="#80ffb4"/>
<rect x="493" y="206" width="3" height="3" fill="#ffb462"/>
<rect x="493" y="209" width="3" height="3" fill="#80ffb4"/>
<rect x="493" y="216" width="3" height="3" fill="#00b5eb"/>
<rect x="493" y="221" width="3" height="3" fill="#00b5eb"/>
<rect x="497" y="195" width="3" height="2" fill="#00b5eb"/>
<rect x="497" y="198" width="3" height="5" fill="#00b5eb"/>
<rect x="497" y="203" width="3" height="1" fill="#80ffb4"/>
<rect x="497" y="204" width="3" height="7" fill="#00b5eb"/>
<rect x="497" y="211" width="3" height="3" fill="#ffb462"/>
<rect x="499" y="216" width="3" height="4" fill="#00b5eb"/>
<rect x="499" y="195" width="3" height="3" fill="#80ffb4"/>
<rect x="499" y="198" width="3" height="13" fill="#00b5eb"/>
<rect x="503" y="185" width="5" height="2" fill="#00b5eb"/>
<rect x="503" y="188" width="5" height="3" fill="#00b5eb"/>
<rect x="503" y="196" width="3" height="3" fill="#80ffb4"/>
<rect x="503" y="202" width="3" height="3" fill="#00b5eb"/>
<rect x="503" y="208" width="3" height="6" fill="#00b5eb"/>
<rect x="505" y="191" width="3" height="1" fill="#80ffb4"/>
<rect x="505" y="194" width="3" height="7" fill="#00b5eb"/>
<rect x="505" y="202" width="3" height="3" fill="#80ffb4"/>
<rect x="505" y="207" width="3" height="3" fill="#80ffb4"/>
<rect x="505" y="210" width="3" height="1" fill="#00b5eb"/>
<rect x="509" y="185" width="3" height="3" fill="#ffb462"/>
<rect x="509" y="193" width="3" height="3" fill="#00b5eb"/>
<rect x="509" y="197" width="3" height="2" fill="#ff0000"/>
<rect x="509" y="199" width="3" height="2" fill="#80ffb4"/>
<rect x="509" y="201" width="3" height="3" fill="#ffb462"/>
<rect x="509" y="204" width="3" height="1" fill="#ff0000"/>
<rect x="509" y="205" width="3" height="1" fill="#ffb462"/>
<rect x="509" y="207" width="3" height="3" fill="#ffb462"/>
<rect x="509" y="210" width="3" height="1" fill="#00b5eb"/>
<rect x="509" y="188" width="5" height="3" fill="#00b5eb"/>
<rect x="511" y="185" width="3" height="1" fill="#00b5eb"/>
<rect x="511" y="186" width="3" height="2" fill="#80ffb4"/>
<rect x="511" y="195" width="3" height="3" fill="#ffb462"/>
<rect x="511" y="211" width="3" height="4" fill="#80ffb4"/>
<rect x="515" y="186" width="3" height="2" fill="#00b5eb"/>
<rect x="515" y="197" width="3" height="3" fill="#80ffb4"/>
<rect x="515" y="202" width="3" height="1" fill="#ffb462"/>
<rect x="515" y="203" width="3" height="1" fill="#80ffb4"/>
<rect x="515" y="205" width="3" height="3" fill="#ff0000"/>
<rect x="515" y="212" width="3" height="3" fill="#00b5eb"/>
<rect x="515" y="188" width="5" height="2" fill="#00b5eb"/>
<rect x="515" y="200" width="5" height="2" fill="#00b5eb"/>
<rect x="517" y="185" width="3" height="2" fill="#80ffb4"/>
<rect x="517" y="187" width="3" height="1" fill="#ffb462"/>
<rect x="517" y="193" width="3" height="3" fill="#80ffb4"/>
<rect x="517" y="196" width="3" height="1" fill="#ffb462"/>
<rect x="517" y="200" width="3" height="4" fill="#00b5eb"/>
<rect x="517" y="205" width="3" height="3" fill="#00b5eb"/>
<rect x="517" y="208" width="3" height="1" fill="#80ffb4"/>
<rect x="522" y="185" width="5" height="7" fill="#80ffb4"/>
<rect x="524" y="185" width="3" height="1" fill="#ffb462"/>
<rect x="522" y="193" width="3" height="3" fill="#80ffb4"/>
<rect x="522" y="200" width="3" height="6" fill="#80ffb4"/>
<rect x="524" y="201" width="3" height="3" fill="#80ffb4"/>
<rect x="524" y="204" width="3" height="1" fill="#ffb462"/>
<rect x="524" y="205" width="3" height="3" fill="#00b5eb"/>
<rect x="528" y="185" width="3" height="2" fill="#00b5eb"/>
<rect x="530" y="184" width="3" height="3" fill="#ffb462"/>
<rect x="530" y="188" width="3" height="3" fill="#00b5eb"/>
<rect x="530" y="196" width="3" height="3" fill="#00b5eb"/>
<rect x="530" y="199" width="3" height="1" fill="#80ffb4"/>
<rect x="530" y="203" width="3" height="3" fill="#80ffb4"/>
<rect x="534" y="189" width="3" height="3" fill="#00b5eb"/>
<rect x="534" y="192" width="3" height="1" fill="#ffb462"/>
<rect x="534" y="196" width="3" height="4" fill="#80ffb4"/>
<rect x="534" y="201" width="3" height="3" fill="#80ffb4"/>
<rect x="534" y="204" width="3" height="6" fill="#00b5eb"/>
<rect x="534" y="210" width="3" height="1" fill="#ff0000"/>
<rect x="536" y="185" width="3" height="1" fill="#80ffb4"/>
<rect x="536" y="197" width="3" height="3" fill="#80ffb4"/>
<rect x="536" y="202" width="3" height="3" fill="#00b5eb"/>
<rect x="540" y="190" width="3" height="3" fill="#00b5eb"/>
<rect x="540" y="198" width="3" height="3" fill="#00b5eb"/>
<rect x="542" y="186" width="3" height="3" fill="#00b5eb"/>
<rect x="542" y="192" width="3" height="12" fill="#00b5eb"/>
<rect x="542" y="199" width="3" height="1" fill="#80ffb4"/>
<rect x="542" y="206" width="3" height="3" fill="#00b5eb"/>
<rect x="542" y="209" width="3" height="2" fill="#ffb462"/>
<rect x="542" y="212" width="3" height="3" fill="#00b5eb"/>
<rect x="546" y="185" width="3" height="2" fill="#00b5eb"/>
<rect x="546" y="188" width="3" height="10" fill="#00b5eb"/>
<rect x="546" y="198" width="3" height="2" fill="#ffb462"/>
<rect x="546" y="200" width="3" height="1" fill="#00b5eb"/>
<rect x="546" y="203" width="3" height="3" fill="#ffb462"/>
<rect x="546" y="206" width="3" height="1" fill="#00b5eb"/>
<rect x="546" y="208" width="3" height="3" fill="#00b5eb"/>
<rect x="546" y="212" width="3" height="3" fill="#00b5eb"/>
<rect x="548" y="190" width="3" height="10" fill="#00b5eb"/>
<rect x="548" y="200" width="3" height="2" fill="#ff0000"/>
<rect x="548" y="202" width="3" height="2" fill="#ffb462"/>
<rect x="548" y="204" width="3" height="1" fill="#80ffb4"/>
<rect x="548" y="208" width="3" height="4" fill="#ffb462"/>
<rect x="548" y="212" width="3" height="3" fill="#80ffb4"/>
<rect x="552" y="185" width="3" height="3" fill="#80ffb4"/>
<rect x="552" y="190" width="3" height="3" fill="#ffb462"/>
<rect x="552" y="193" width="3" height="1" fill="#80ffb4"/>
<rect x="552" y="194" width="3" height="2" fill="#ff0000"/>
<rect x="552" y="196" width="3" height="2" fill="#ffb462"/>
<rect x="552" y="198" width="3" height="1" fill="#ff0000"/>
<rect x="552" y="202" width="3" height="1" fill="#00b5eb"/>
<rect x="552" y="203" width="3" height="2" fill="#ffb462"/>
<rect x="552" y="205" width="3" height="1" fill="#00b5eb"/>
<rect x="552" y="199" width="5" height="3" fill="#00b5eb"/>
<rect x="565" y="198" width="5" height="3" fill="#00b5eb"/>
<rect x="565" y="201" width="3" height="3" fill="#00b5eb"/>
<rect x="573" y="195" width="3" height="4" fill="#80ffb4"/>
<rect x="573" y="207" width="3" height="3" fill="#00b5eb"/>
<rect x="571" y="197" width="3" height="3" fill="#00b5eb"/>
<rect x="571" y="205" width="3" height="3" fill="#00b5eb"/>
<rect x="571" y="199" width="5" height="2" fill="#00b5eb"/>
<rect x="567" y="208" width="3" height="3" fill="#00b5eb"/>
<rect x="577" y="196" width="3" height="3" fill="#00b5eb"/>
<rect x="577" y="201" width="3" height="3" fill="#00b5eb"/>
<rect x="579" y="200" width="3" height="5" fill="#ff0000"/>
<rect x="579" y="205" width="3" height="2" fill="#00b5eb"/>
<rect x="579" y="207" width="3" height="2" fill="#80ffb4"/>
<rect x="583" y="195" width="3" height="4" fill="#00b5eb"/>
<rect x="583" y="199" width="3" height="2" fill="#ffb462"/>
<rect x="583" y="201" width="3" height="1" fill="#00b5eb"/>
<rect x="583" y="202" width="3" height="2" fill="#ff0000"/>
<rect x="583" y="204" width="3" height="1" fill="#ffb462"/>
<rect x="583" y="205" width="3" height="4" fill="#00b5eb"/>
<rect x="585" y="196" width="3" height="1" fill="#ffb462"/>
<rect x="585" y="197" width="3" height="2" fill="#80ffb4"/>
<rect x="585" y="199" width="3" height="7" fill="#00b5eb"/>
<rect x="589" y="195" width="5" height="3" fill="#80ffb4"/>
<rect x="589" y="196" width="3" height="3" fill="#00b5eb"/>
<rect x="589" y="204" width="3" height="2" fill="#80ffb4"/>
<rect x="589" y="206" width="3" height="1" fill="#ffb462"/>
<rect x="589" y="207" width="3" height="2" fill="#00b5eb"/>
<rect x="591" y="195" width="3" height="4" fill="#80ffb4"/>
<rect x="591" y="205" width="3" height="4" fill="#00b5eb"/>
<rect x="589" y="199" width="5" height="5" fill="#00b5eb"/>
<rect x="595" y="197" width="3" height="4" fill="#00b5eb"/>
<rect x="595" y="201" width="3" height="2" fill="#80ffb4"/>
<rect x="595" y="203" width="3" height="3" fill="#00b5eb"/>
<rect x="601" y="198" width="5" height="3" fill="#00b5eb"/>
<rect x="608" y="196" width="3" height="5" fill="#00b5eb"/>
<rect x="614" y="196" width="3" height="3" fill="#00b5eb"/>
<rect x="589" y="211" width="3" height="6" fill="#00b5eb"/>
<rect x="589" y="217" width="3" height="3" fill="#80ffb4"/>
<rect x="589" y="220" width="3" height="1" fill="#ff0000"/>
<rect x="589" y="221" width="3" height="3" fill="#00b5eb"/>
<rect x="589" y="224" width="3" height="1" fill="#ff0000"/>
<rect x="591" y="212" width="3" height="6" fill="#00b5eb"/>
<rect x="591" y="218" width="3" height="1" fill="#ffb462"/>
<rect x="591" y="219" width="3" height="2" fill="#00b5eb"/>
<rect x="591" y="221" width="3" height="2" fill="#80ffb4"/>
<rect x="591" y="223" width="3" height="1" fill="#ffb462"/>
<rect x="591" y="224" width="3" height="1" fill="#80ffb4"/>
<rect x="595" y="215" width="3" height="5" fill="#00b5eb"/>
<rect x="595" y="220" width="3" height="5" fill="#80ffb4"/>
<rect x="601" y="211" width="3" height="5" fill="#00b5eb"/>
<rect x="601" y="216" width="3" height="1" fill="#ffb462"/>
<rect x="601" y="217" width="3" height="1" fill="#ff0000"/>
<rect x="601" y="218" width="3" height="1" fill="#00b5eb"/>
<rect x="601" y="219" width="3" height="2" fill="#80ffb4"/>
<rect x="601" y="221" width="3" height="2" fill="#00b5eb"/>
<rect x="601" y="223" width="3" height="1" fill="#80ffb4"/>
<rect x="601" y="224" width="3" height="1" fill="#ffb462"/>
<rect x="608" y="215" width="3" height="3" fill="#80ffb4"/>
<rect x="608" y="218" width="3" height="1" fill="#00b5eb"/>
<rect x="608" y="219" width="3" height="1" fill="#80ffb4"/>
<rect x="608" y="220" width="3" height="1" fill="#00b5eb"/>
<rect x="608" y="221" width="3" height="1" fill="#80ffb4"/>
<rect x="608" y="222" width="3" height="1" fill="#00b5eb"/>
<rect x="608" y="223" width="3" height="1" fill="#80ffb4"/>
<rect x="608" y="224" width="3" height="1" fill="#ffb462"/>
<rect x="614" y="224" width="3" height="3" fill="#ff0000"/>
<rect x="567" y="217" width="3" height="3" fill="#ffb462"/>
<rect x="567" y="220" width="3" height="3" fill="#80ffb4"/>
<rect x="567" y="223" width="3" height="1" fill="#00b5eb"/>
<rect x="567" y="224" width="3" height="1" fill="#ff0000"/>
<rect x="573" y="216" width="3" height="3" fill="#00b5eb"/>
<rect x="571" y="220" width="3" height="3" fill="#00b5eb"/>
<rect x="577" y="215" width="3" height="3" fill="#00b5eb"/>
<rect x="583" y="215" width="3" height="6" fill="#80ffb4"/>
<rect x="583" y="221" width="3" height="4" fill="#00b5eb"/>
<rect x="585" y="214" width="3" height="3" fill="#00b5eb"/>
<rect x="585" y="217" width="3" height="6" fill="#80ffb4"/>
<rect x="585" y="223" width="3" height="2" fill="#00b5eb"/>
<rect x="558" y="223" width="3" height="3" fill="#80ffb4"/>
<rect x="577" y="222" width="3" height="3" fill="#80ffb4"/>
<rect x="579" y="222" width="3" height="3" fill="#ffb462"/>
<rect x="616" y="196" width="3" height="3" fill="#00b5eb"/>
<rect x="640" y="207" width="3" height="3" fill="#00b5eb"/>
<rect x="620" y="211" width="3" height="3" fill="#ff0000"/>
<rect x="622" y="211" width="3" height="3" fill="#ffb462"/>
<rect x="626" y="213" width="3" height="3" fill="#ffb462"/>
<rect x="628" y="213" width="3" height="3" fill="#ff0000"/>
<rect x="632" y="213" width="5" height="3" fill="#ff0000"/>
<rect x="638" y="213" width="3" height="3" fill="#80ffb4"/>
<rect x="640" y="216" width="3" height="2" fill="#00b5eb"/>
<rect x="640" y="213" width="3" height="3" fill="#ff0000"/>
<rect x="644" y="213" width="6" height="3" fill="#ff0000"/>
<rect x="651" y="215" width="3" height="1" fill="#ffb462"/>
<rect x="651" y="212" width="3" height="3" fill="#00b5eb"/>
<rect x="653" y="213" width="3" height="3" fill="#80ffb4"/>
<rect x="657" y="218" width="3" height="1" fill="#00b5eb"/>
<rect x="657" y="215" width="3" height="3" fill="#80ffb4"/>
<rect x="659" y="218" width="3" height="1" fill="#80ffb4"/>
<rect x="659" y="215" width="3" height="3" fill="#ffb462"/>
<rect x="663" y="218" width="3" height="1" fill="#80ffb4"/>
<rect x="663" y="215" width="3" height="3" fill="#00b5eb"/>
<rect x="665" y="218" width="3" height="1" fill="#00b5eb"/>
<rect x="665" y="215" width="3" height="3" fill="#ff0000"/>
<rect x="632" y="223" width="3" height="3" fill="#00b5eb"/>
<rect x="634" y="223" width="3" height="3" fill="#80ffb4"/>
<rect x="638" y="223" width="3" height="3" fill="#00b5eb"/>
<rect x="640" y="223" width="3" height="3" fill="#ffb462"/>
<rect x="644" y="223" width="3" height="3" fill="#80ffb4"/>
<rect x="647" y="223" width="3" height="3" fill="#00b5eb"/>
<rect x="651" y="223" width="3" height="3" fill="#00b5eb"/>
<rect x="659" y="223" width="3" height="3" fill="#00b5eb"/>
<rect x="663" y="223" width="5" height="3" fill="#00b5eb"/>
<rect x="653" y="181" width="3" height="3" fill="#00b5eb"/>
<rect x="456" y="226" width="3" height="3" fill="#00b5eb"/>
<rect x="460" y="237" width="3" height="3" fill="#00b5eb"/>
<rect x="479" y="224" width="3" height="3" fill="#80ffb4"/>
<rect x="499" y="216" width="3" height="2" fill="#80ffb4"/>
<rect x="499" y="218" width="3" height="3" fill="#00b5eb"/>
<rect x="499" y="229" width="3" height="4" fill="#00b5eb"/>
<rect x="497" y="232" width="3" height="1" fill="#00b5eb"/>
<rect x="497" y="229" width="3" height="3" fill="#ffb462"/>
<rect x="503" y="216" width="3" height="4" fill="#00b5eb"/>
<rect x="503" y="223" width="3" height="3" fill="#80ffb4"/>
<rect x="505" y="215" width="3" height="3" fill="#00b5eb"/>
<rect x="505" y="218" width="3" height="1" fill="#80ffb4"/>
<rect x="505" y="219" width="3" height="2" fill="#00b5eb"/>
<rect x="505" y="221" width="3" height="3" fill="#ffb462"/>
<rect x="505" y="224" width="3" height="1" fill="#00b5eb"/>
<rect x="505" y="225" width="3" height="1" fill="#80ffb4"/>
<rect x="505" y="226" width="3" height="1" fill="#00b5eb"/>
<rect x="509" y="215" width="3" height="3" fill="#ffb462"/>
<rect x="509" y="219" width="3" height="2" fill="#00b5eb"/>
<rect x="509" y="221" width="3" height="1" fill="#ffb462"/>
<rect x="509" y="222" width="3" height="2" fill="#00b5eb"/>
<rect x="509" y="224" width="3" height="3" fill="#ff0000"/>
<rect x="509" y="227" width="3" height="3" fill="#00b5eb"/>
<rect x="509" y="233" width="3" height="3" fill="#00b5eb"/>
<rect x="509" y="236" width="3" height="2" fill="#80ffb4"/>
<rect x="511" y="215" width="3" height="2" fill="#00b5eb"/>
<rect x="511" y="217" width="3" height="1" fill="#ffb462"/>
<rect x="511" y="218" width="3" height="3" fill="#80ffb4"/>
<rect x="511" y="221" width="3" height="3" fill="#ffb462"/>
<rect x="511" y="224" width="3" height="1" fill="#ff0000"/>
<rect x="511" y="225" width="3" height="2" fill="#80ffb4"/>
<rect x="511" y="228" width="3" height="5" fill="#00b5eb"/>
<rect x="515" y="215" width="3" height="3" fill="#ffb462"/>
<rect x="515" y="218" width="3" height="1" fill="#80ffb4"/>
<rect x="515" y="220" width="3" height="3" fill="#00b5eb"/>
<rect x="515" y="223" width="3" height="3" fill="#ff0000"/>
<rect x="515" y="226" width="3" height="1" fill="#ffb462"/>
<rect x="515" y="230" width="3" height="3" fill="#00b5eb"/>
<rect x="515" y="235" width="3" height="4" fill="#00b5eb"/>
<rect x="517" y="215" width="3" height="4" fill="#00b5eb"/>
<rect x="517" y="221" width="3" height="5" fill="#80ffb4"/>
<rect x="517" y="226" width="3" height="5" fill="#00b5eb"/>
<rect x="522" y="216" width="3" height="3" fill="#80ffb4"/>
<rect x="522" y="219" width="3" height="2" fill="#00b5eb"/>
<rect x="522" y="221" width="3" height="2" fill="#ffb462"/>
<rect x="522" y="223" width="3" height="4" fill="#ff0000"/>
<rect x="522" y="227" width="3" height="5" fill="#00b5eb"/>
<rect x="524" y="224" width="3" height="3" fill="#00b5eb"/>
<rect x="530" y="218" width="3" height="3" fill="#ffb462"/>
<rect x="530" y="221" width="3" height="3" fill="#00b5eb"/>
<rect x="530" y="224" width="3" height="1" fill="#ff0000"/>
<rect x="530" y="225" width="3" height="2" fill="#ffb462"/>
<rect x="530" y="228" width="3" height="3" fill="#00b5eb"/>
<rect x="530" y="231" width="3" height="1" fill="#80ffb4"/>
<rect x="530" y="232" width="3" height="3" fill="#00b5eb"/>
<rect x="528" y="235" width="5" height="3" fill="#00b5eb"/>
<rect x="536" y="215" width="3" height="5" fill="#80ffb4"/>
<rect x="540" y="222" width="3" height="3" fill="#00b5eb"/>
<rect x="542" y="215" width="3" height="6" fill="#00b5eb"/>
<rect x="542" y="221" width="3" height="4" fill="#80ffb4"/>
<rect x="542" y="225" width="3" height="1" fill="#ffb462"/>
<rect x="542" y="226" width="3" height="1" fill="#00b5eb"/>
<rect x="542" y="228" width="3" height="7" fill="#00b5eb"/>
<rect x="542" y="235" width="3" height="1" fill="#80ffb4"/>
<rect x="542" y="236" width="3" height="1" fill="#ffb462"/>
<rect x="546" y="215" width="3" height="3" fill="#ffb462"/>
<rect x="548" y="215" width="3" height="2" fill="#80ffb4"/>
<rect x="548" y="217" width="3" height="2" fill="#ff0000"/>
<rect x="548" y="219" width="3" height="1" fill="#ffb462"/>
<rect x="548" y="220" width="3" height="1" fill="#ff0000"/>
<rect x="548" y="221" width="3" height="2" fill="#ffb462"/>
<rect x="548" y="223" width="3" height="4" fill="#ff0000"/>
<rect x="548" y="227" width="3" height="5" fill="#00b5eb"/>
<rect x="515" y="244" width="3" height="3" fill="#00b5eb"/>
<rect x="524" y="242" width="3" height="4" fill="#00b5eb"/>
<rect x="528" y="242" width="3" height="4" fill="#00b5eb"/>
<rect x="542" y="243" width="3" height="3" fill="#ffb462"/>
<rect x="567" y="225" width="3" height="1" fill="#ff0000"/>
<rect x="567" y="226" width="3" height="1" fill="#ffb462"/>
<rect x="579" y="225" width="3" height="1" fill="#00b5eb"/>
<rect x="583" y="225" width="5" height="2" fill="#00b5eb"/>
<rect x="579" y="228" width="3" height="3" fill="#00b5eb"/>
<rect x="591" y="225" width="3" height="5" fill="#00b5eb"/>
<rect x="591" y="230" width="3" height="2" fill="#80ffb4"/>
<rect x="591" y="232" width="3" height="2" fill="#00b5eb"/>
<rect x="591" y="243" width="3" height="3" fill="#ffb462"/>
<rect x="591" y="247" width="3" height="3" fill="#80ffb4"/>
<rect x="589" y="230" width="3" height="7" fill="#00b5eb"/>
<rect x="589" y="241" width="3" height="4" fill="#00b5eb"/>
<rect x="589" y="245" width="3" height="2" fill="#80ffb4"/>
<rect x="595" y="225" width="3" height="1" fill="#ffb462"/>
<rect x="595" y="226" width="3" height="1" fill="#ff0000"/>
<rect x="595" y="229" width="3" height="3" fill="#ffb462"/>
<rect x="595" y="235" width="3" height="3" fill="#80ffb4"/>
<rect x="595" y="238" width="3" height="1" fill="#00b5eb"/>
<rect x="595" y="239" width="3" height="1" fill="#80ffb4"/>
<rect x="595" y="241" width="3" height="3" fill="#ffb462"/>
<rect x="595" y="244" width="3" height="2" fill="#80ffb4"/>
<rect x="595" y="246" width="3" height="1" fill="#ffb462"/>
<rect x="595" y="247" width="3" height="3" fill="#80ffb4"/>
<rect x="595" y="250" width="3" height="3" fill="#00b5eb"/>
<rect x="595" y="253" width="3" height="2" fill="#80ffb4"/>
<rect x="602" y="225" width="4" height="3" fill="#00b5eb"/>
<rect x="608" y="225" width="3" height="8" fill="#00b5eb"/>
<rect x="608" y="247" width="3" height="3" fill="#00b5eb"/>
<rect x="608" y="250" width="3" height="2" fill="#80ffb4"/>
<rect x="608" y="254" width="3" height="1" fill="#00b5eb"/>
<rect x="614" y="225" width="3" height="2" fill="#ff0000"/>
<rect x="614" y="227" width="3" height="1" fill="#80ffb4"/>
<rect x="614" y="228" width="3" height="1" fill="#00b5eb"/>
<rect x="614" y="230" width="3" height="3" fill="#ffb462"/>
<rect x="614" y="233" width="3" height="1" fill="#80ffb4"/>
<rect x="614" y="235" width="3" height="3" fill="#ffb462"/>
<rect x="614" y="238" width="3" height="1" fill="#00b5eb"/>
<rect x="614" y="239" width="3" height="1" fill="#80ffb4"/>
<rect x="614" y="241" width="3" height="3" fill="#00b5eb"/>
<rect x="614" y="244" width="3" height="1" fill="#ffb462"/>
<rect x="614" y="245" width="3" height="8" fill="#00b5eb"/>
<rect x="614" y="253" width="3" height="2" fill="#80ffb4"/>
<rect x="573" y="237" width="3" height="3" fill="#00b5eb"/>
<rect x="573" y="241" width="3" height="4" fill="#80ffb4"/>
<rect x="573" y="245" width="3" height="1" fill="#ffb462"/>
<rect x="573" y="246" width="3" height="9" fill="#00b5eb"/>
<rect x="565" y="242" width="3" height="3" fill="#ffb462"/>
<rect x="565" y="245" width="3" height="1" fill="#80ffb4"/>
<rect x="567" y="247" width="3" height="3" fill="#80ffb4"/>
<rect x="567" y="250" width="3" height="2" fill="#00b5eb"/>
<rect x="567" y="252" width="3" height="1" fill="#80ffb4"/>
<rect x="567" y="253" width="3" height="1" fill="#00b5eb"/>
<rect x="567" y="254" width="3" height="1" fill="#ffb462"/>
<rect x="577" y="243" width="3" height="3" fill="#00b5eb"/>
<rect x="579" y="245" width="3" height="3" fill="#00b5eb"/>
<rect x="583" y="242" width="3" height="3" fill="#00b5eb"/>
<rect x="601" y="237" width="3" height="3" fill="#00b5eb"/>
<rect x="601" y="241" width="3" height="6" fill="#00b5eb"/>
<rect x="601" y="250" width="3" height="3" fill="#ffb462"/>
<rect x="601" y="253" width="3" height="2" fill="#00b5eb"/>
<rect x="579" y="253" width="3" height="3" fill="#00b5eb"/>
<rect x="583" y="253" width="3" height="3" fill="#80ffb4"/>
<rect x="589" y="253" width="3" height="3" fill="#00b5eb"/>
<rect x="591" y="254" width="3" height="3" fill="#00b5eb"/>
<rect x="616" y="231" width="3" height="3" fill="#00b5eb"/>
<rect x="622" y="229" width="3" height="3" fill="#00b5eb"/>
<rect x="634" y="231" width="3" height="3" fill="#00b5eb"/>
<rect x="640" y="231" width="3" height="3" fill="#00b5eb"/>
<rect x="665" y="231" width="3" height="3" fill="#00b5eb"/>
<rect x="620" y="241" width="3" height="3" fill="#00b5eb"/>
<rect x="620" y="244" width="3" height="1" fill="#80ffb4"/>
<rect x="620" y="245" width="3" height="2" fill="#00b5eb"/>
<rect x="620" y="247" width="3" height="1" fill="#ffb462"/>
<rect x="620" y="248" width="3" height="3" fill="#80ffb4"/>
<rect x="620" y="251" width="3" height="2" fill="#00b5eb"/>
<rect x="620" y="253" width="3" height="2" fill="#ffb462"/>
<rect x="622" y="243" width="3" height="3" fill="#00b5eb"/>
<rect x="626" y="253" width="3" height="3" fill="#00b5eb"/>
<rect x="638" y="253" width="3" height="3" fill="#00b5eb"/>
<rect x="644" y="253" width="3" height="3" fill="#00b5eb"/>
<rect x="651" y="252" width="3" height="3" fill="#80ffb4"/>
<rect x="657" y="244" width="3" height="4" fill="#00b5eb"/>
<rect x="657" y="251" width="3" height="3" fill="#00b5eb"/>
<rect x="657" y="254" width="3" height="1" fill="#80ffb4"/>
<rect x="663" y="241" width="3" height="3" fill="#ffb462"/>
<rect x="663" y="244" width="3" height="1" fill="#80ffb4"/>
<rect x="663" y="245" width="3" height="1" fill="#00b5eb"/>
<rect x="663" y="248" width="3" height="5" fill="#00b5eb"/>
<rect x="663" y="254" width="3" height="1" fill="#ff0000"/>
<rect x="79" y="223" width="3" height="3" fill="#80ffb4"/>
<rect x="79" y="226" width="3" height="1" fill="#ffb462"/>
<rect x="79" y="229" width="3" height="3" fill="#ffb462"/>
<rect x="79" y="232" width="3" height="3" fill="#00b5eb"/>
<rect x="79" y="235" width="3" height="1" fill="#80ffb4"/>
<rect x="79" y="236" width="3" height="1" fill="#00b5eb"/>
<rect x="79" y="237" width="3" height="3" fill="#80ffb4"/>
<rect x="79" y="241" width="3" height="4" fill="#00b5eb"/>
<rect x="87" y="221" width="3" height="3" fill="#80ffb4"/>
<rect x="104" y="221" width="3" height="3" fill="#00b5eb"/>
<rect x="85" y="229" width="3" height="6" fill="#00b5eb"/>
<rect x="85" y="237" width="3" height="3" fill="#00b5eb"/>
<rect x="85" y="241" width="3" height="4" fill="#00b5eb"/>
<rect x="91" y="229" width="3" height="3" fill="#ffb462"/>
<rect x="91" y="232" width="3" height="1" fill="#80ffb4"/>
<rect x="91" y="233" width="3" height="1" fill="#00b5eb"/>
<rect x="91" y="234" width="3" height="1" fill="#ff0000"/>
<rect x="91" y="235" width="3" height="1" fill="#80ffb4"/>
<rect x="91" y="236" width="3" height="1" fill="#00b5eb"/>
<rect x="91" y="237" width="3" height="2" fill="#80ffb4"/>
<rect x="91" y="239" width="3" height="1" fill="#00b5eb"/>
<rect x="91" y="241" width="3" height="3" fill="#00b5eb"/>
<rect x="91" y="244" width="3" height="1" fill="#ffb462"/>
<rect x="97" y="228" width="3" height="3" fill="#00b5eb"/>
<rect x="97" y="231" width="3" height="1" fill="#80ffb4"/>
<rect x="97" y="233" width="3" height="4" fill="#00b5eb"/>
<rect x="97" y="237" width="3" height="1" fill="#ff0000"/>
<rect x="97" y="238" width="3" height="1" fill="#ffb462"/>
<rect x="97" y="239" width="3" height="1" fill="#00b5eb"/>
<rect x="97" y="241" width="3" height="3" fill="#ffb462"/>
<rect x="97" y="244" width="3" height="1" fill="#ff0000"/>
<rect x="104" y="232" width="3" height="3" fill="#ff0000"/>
<rect x="104" y="235" width="3" height="2" fill="#ffb462"/>
<rect x="104" y="237" width="3" height="8" fill="#00b5eb"/>
<rect x="110" y="235" width="3" height="5" fill="#00b5eb"/>
<rect x="110" y="242" width="3" height="3" fill="#00b5eb"/>
<rect x="116" y="241" width="3" height="4" fill="#00b5eb"/>
<rect x="122" y="241" width="3" height="3" fill="#ffb462"/>
<rect x="122" y="244" width="3" height="1" fill="#80ffb4"/>
<rect x="128" y="243" width="3" height="3" fill="#80ffb4"/>
<rect x="134" y="237" width="3" height="4" fill="#80ffb4"/>
<rect x="134" y="241" width="3" height="4" fill="#00b5eb"/>
<rect x="136" y="228" width="3" height="3" fill="#00b5eb"/>
<rect x="141" y="235" width="3" height="3" fill="#80ffb4"/>
<rect x="141" y="238" width="3" height="3" fill="#00b5eb"/>
<rect x="147" y="232" width="3" height="3" fill="#80ffb4"/>
<rect x="147" y="235" width="3" height="1" fill="#ff0000"/>
<rect x="147" y="236" width="3" height="2" fill="#00b5eb"/>
<rect x="147" y="238" width="3" height="1" fill="#80ffb4"/>
<rect x="147" y="239" width="3" height="1" fill="#ffb462"/>
<rect x="147" y="240" width="3" height="1" fill="#00b5eb"/>
<rect x="147" y="241" width="3" height="4" fill="#ffb462"/>
<rect x="153" y="232" width="3" height="3" fill="#80ffb4"/>
<rect x="153" y="235" width="3" height="1" fill="#ffb462"/>
<rect x="153" y="236" width="3" height="4" fill="#00b5eb"/>
<rect x="153" y="240" width="3" height="4" fill="#80ffb4"/>
<rect x="153" y="244" width="3" height="1" fill="#00b5eb"/>
<rect x="159" y="233" width="3" height="3" fill="#80ffb4"/>
<rect x="159" y="237" width="3" height="4" fill="#ffb462"/>
<rect x="159" y="241" width="3" height="3" fill="#ff0000"/>
<rect x="159" y="244" width="3" height="1" fill="#80ffb4"/>
<rect x="165" y="235" width="3" height="4" fill="#00b5eb"/>
<rect x="165" y="239" width="3" height="1" fill="#80ffb4"/>
<rect x="165" y="240" width="3" height="1" fill="#ffb462"/>
<rect x="165" y="241" width="3" height="4" fill="#00b5eb"/>
<rect x="171" y="232" width="3" height="3" fill="#ffb462"/>
<rect x="171" y="235" width="3" height="2" fill="#80ffb4"/>
<rect x="171" y="237" width="3" height="1" fill="#ff0000"/>
<rect x="171" y="238" width="3" height="7" fill="#00b5eb"/>
<rect x="177" y="229" width="3" height="3" fill="#ffb462"/>
<rect x="177" y="232" width="3" height="1" fill="#80ffb4"/>
<rect x="177" y="233" width="3" height="2" fill="#00b5eb"/>
<rect x="177" y="235" width="3" height="1" fill="#80ffb4"/>
<rect x="177" y="236" width="3" height="3" fill="#00b5eb"/>
<rect x="177" y="239" width="3" height="1" fill="#ffb462"/>
<rect x="177" y="242" width="3" height="3" fill="#80ffb4"/>
<rect x="184" y="215" width="3" height="2" fill="#80ffb4"/>
<rect x="184" y="217" width="3" height="2" fill="#ff0000"/>
<rect x="184" y="219" width="3" height="1" fill="#ffb462"/>
<rect x="184" y="220" width="3" height="1" fill="#ff0000"/>
<rect x="184" y="221" width="3" height="4" fill="#80ffb4"/>
<rect x="184" y="225" width="3" height="3" fill="#ff0000"/>
<rect x="184" y="228" width="3" height="1" fill="#80ffb4"/>
<rect x="184" y="229" width="3" height="1" fill="#ffb462"/>
<rect x="184" y="230" width="3" height="1" fill="#ff0000"/>
<rect x="184" y="231" width="3" height="1" fill="#00b5eb"/>
<rect x="184" y="232" width="3" height="2" fill="#80ffb4"/>
<rect x="184" y="234" width="3" height="1" fill="#ffb462"/>
<rect x="184" y="235" width="3" height="3" fill="#80ffb4"/>
<rect x="184" y="238" width="3" height="2" fill="#00b5eb"/>
<rect x="184" y="241" width="3" height="3" fill="#80ffb4"/>
<rect x="184" y="244" width="3" height="1" fill="#00b5eb"/>
<rect x="190" y="215" width="3" height="2" fill="#80ffb4"/>
<rect x="190" y="217" width="3" height="2" fill="#ffb462"/>
<rect x="190" y="219" width="3" height="1" fill="#80ffb4"/>
<rect x="190" y="220" width="3" height="1" fill="#00b5eb"/>
<rect x="190" y="221" width="3" height="2" fill="#ffb462"/>
<rect x="190" y="223" width="3" height="2" fill="#ff0000"/>
<rect x="190" y="225" width="3" height="1" fill="#ffb462"/>
<rect x="190" y="226" width="3" height="1" fill="#ff0000"/>
<rect x="190" y="227" width="3" height="2" fill="#00b5eb"/>
<rect x="190" y="232" width="3" height="3" fill="#00b5eb"/>
<rect x="190" y="235" width="3" height="1" fill="#80ffb4"/>
<rect x="190" y="236" width="3" height="2" fill="#ffb462"/>
<rect x="190" y="241" width="3" height="4" fill="#00b5eb"/>
<rect x="196" y="217" width="3" height="3" fill="#00b5eb"/>
<rect x="196" y="220" width="3" height="4" fill="#80ffb4"/>
<rect x="196" y="224" width="3" height="1" fill="#ff0000"/>
<rect x="196" y="225" width="3" height="2" fill="#ffb462"/>
<rect x="196" y="227" width="3" height="1" fill="#00b5eb"/>
<rect x="196" y="229" width="3" height="3" fill="#ffb462"/>
<rect x="196" y="232" width="3" height="1" fill="#00b5eb"/>
<rect x="196" y="235" width="3" height="3" fill="#00b5eb"/>
<rect x="202" y="218" width="3" height="3" fill="#00b5eb"/>
<rect x="202" y="222" width="3" height="3" fill="#00b5eb"/>
<rect x="202" y="225" width="3" height="2" fill="#80ffb4"/>
<rect x="202" y="227" width="3" height="3" fill="#00b5eb"/>
<rect x="202" y="230" width="3" height="2" fill="#ffb462"/>
<rect x="202" y="232" width="3" height="3" fill="#00b5eb"/>
<rect x="202" y="235" width="3" height="1" fill="#80ffb4"/>
<rect x="202" y="236" width="3" height="1" fill="#00b5eb"/>
<rect x="208" y="215" width="3" height="1" fill="#80ffb4"/>
<rect x="208" y="216" width="3" height="1" fill="#00b5eb"/>
<rect x="208" y="217" width="3" height="1" fill="#ffb462"/>
<rect x="208" y="218" width="3" height="1" fill="#80ffb4"/>
<rect x="208" y="219" width="3" height="2" fill="#ff0000"/>
<rect x="208" y="221" width="3" height="3" fill="#ffb462"/>
<rect x="208" y="224" width="3" height="3" fill="#00b5eb"/>
<rect x="216" y="216" width="3" height="3" fill="#80ffb4"/>
<rect x="216" y="219" width="3" height="2" fill="#ffb462"/>
<rect x="216" y="221" width="3" height="2" fill="#00b5eb"/>
<rect x="216" y="223" width="3" height="4" fill="#80ffb4"/>
<rect x="216" y="228" width="3" height="3" fill="#00b5eb"/>
<rect x="216" y="232" width="3" height="6" fill="#80ffb4"/>
<rect x="222" y="215" width="3" height="3" fill="#00b5eb"/>
<rect x="222" y="218" width="3" height="1" fill="#ffb462"/>
<rect x="227" y="225" width="3" height="3" fill="#00b5eb"/>
<rect x="227" y="237" width="3" height="3" fill="#00b5eb"/>
<rect x="253" y="229" width="3" height="3" fill="#00b5eb"/>
<rect x="229" y="244" width="3" height="3" fill="#80ffb4"/>
<rect x="290" y="227" width="3" height="3" fill="#00b5eb"/>
<rect x="321" y="223" width="3" height="3" fill="#00b5eb"/>
<rect x="325" y="229" width="3" height="3" fill="#00b5eb"/>
<rect x="331" y="215" width="3" height="3" fill="#00b5eb"/>
<rect x="364" y="219" width="3" height="3" fill="#00b5eb"/>
<rect x="308" y="249" width="3" height="3" fill="#00b5eb"/>
<rect x="315" y="264" width="3" height="3" fill="#ffb462"/>
<rect x="306" y="269" width="3" height="3" fill="#00b5eb"/>
<rect x="376" y="274" width="3" height="3" fill="#00b5eb"/>
<rect x="411" y="277" width="3" height="3" fill="#00b5eb"/>
<rect x="308" y="290" width="3" height="3" fill="#00b5eb"/>
<rect x="466" y="252" width="3" height="3" fill="#00b5eb"/>
<rect x="450" y="257" width="3" height="3" fill="#00b5eb"/>
<rect x="460" y="267" width="3" height="3" fill="#00b5eb"/>
<rect x="479" y="250" width="3" height="3" fill="#00b5eb"/>
<rect x="493" y="249" width="3" height="3" fill="#00b5eb"/>
<rect x="493" y="257" width="3" height="3" fill="#00b5eb"/>
<rect x="493" y="261" width="3" height="3" fill="#00b5eb"/>
<rect x="493" y="267" width="3" height="3" fill="#00b5eb"/>
<rect x="509" y="257" width="3" height="3" fill="#00b5eb"/>
<rect x="505" y="278" width="3" height="3" fill="#00b5eb"/>
<rect x="517" y="245" width="3" height="3" fill="#00b5eb"/>
<rect x="517" y="250" width="3" height="7" fill="#00b5eb"/>
<rect x="534" y="245" width="3" height="3" fill="#80ffb4"/>
<rect x="542" y="246" width="3" height="5" fill="#00b5eb"/>
<rect x="530" y="253" width="3" height="3" fill="#80ffb4"/>
<rect x="528" y="261" width="3" height="3" fill="#00b5eb"/>
<rect x="530" y="256" width="3" height="7" fill="#00b5eb"/>
<rect x="530" y="262" width="3" height="1" fill="#80ffb4"/>
<rect x="548" y="260" width="3" height="3" fill="#00b5eb"/>
<rect x="548" y="265" width="3" height="3" fill="#00b5eb"/>
<rect x="542" y="264" width="3" height="3" fill="#00b5eb"/>
<rect x="540" y="272" width="3" height="3" fill="#00b5eb"/>
<rect x="530" y="289" width="3" height="3" fill="#00b5eb"/>
<rect x="79" y="245" width="3" height="4" fill="#00b5eb"/>
<rect x="79" y="252" width="3" height="3" fill="#00b5eb"/>
<rect x="79" y="255" width="3" height="2" fill="#80ffb4"/>
<rect x="79" y="257" width="3" height="7" fill="#00b5eb"/>
<rect x="79" y="265" width="3" height="4" fill="#00b5eb"/>
<rect x="79" y="274" width="3" height="3" fill="#00b5eb"/>
<rect x="85" y="245" width="3" height="3" fill="#00b5eb"/>
<rect x="85" y="253" width="3" height="3" fill="#00b5eb"/>
<rect x="85" y="256" width="3" height="1" fill="#80ffb4"/>
<rect x="85" y="257" width="3" height="3" fill="#00b5eb"/>
<rect x="85" y="260" width="3" height="1" fill="#ffb462"/>
<rect x="85" y="261" width="3" height="1" fill="#80ffb4"/>
<rect x="85" y="262" width="3" height="2" fill="#00b5eb"/>
<rect x="85" y="266" width="3" height="3" fill="#00b5eb"/>
<rect x="85" y="272" width="3" height="3" fill="#80ffb4"/>
<rect x="91" y="245" width="3" height="2" fill="#00b5eb"/>
<rect x="91" y="247" width="3" height="4" fill="#80ffb4"/>
<rect x="91" y="251" width="3" height="5" fill="#00b5eb"/>
<rect x="91" y="257" width="3" height="3" fill="#00b5eb"/>
<rect x="91" y="260" width="3" height="1" fill="#80ffb4"/>
<rect x="91" y="261" width="3" height="2" fill="#00b5eb"/>
<rect x="91" y="263" width="3" height="1" fill="#ffb462"/>
<rect x="91" y="264" width="3" height="3" fill="#80ffb4"/>
<rect x="91" y="267" width="3" height="1" fill="#00b5eb"/>
<rect x="91" y="268" width="3" height="1" fill="#80ffb4"/>
<rect x="91" y="272" width="3" height="3" fill="#80ffb4"/>
<rect x="97" y="245" width="3" height="2" fill="#00b5eb"/>
<rect x="97" y="247" width="3" height="1" fill="#ffb462"/>
<rect x="97" y="248" width="3" height="3" fill="#00b5eb"/>
<rect x="97" y="251" width="3" height="1" fill="#80ffb4"/>
<rect x="97" y="252" width="3" height="4" fill="#00b5eb"/>
<rect x="97" y="256" width="3" height="4" fill="#80ffb4"/>
<rect x="97" y="260" width="3" height="1" fill="#ff0000"/>
<rect x="97" y="261" width="3" height="4" fill="#00b5eb"/>
<rect x="97" y="265" width="3" height="2" fill="#ffb462"/>
<rect x="97" y="267" width="3" height="2" fill="#00b5eb"/>
<rect x="97" y="272" width="3" height="3" fill="#00b5eb"/>
<rect x="104" y="245" width="3" height="4" fill="#00b5eb"/>
<rect x="104" y="249" width="3" height="1" fill="#ffb462"/>
<rect x="104" y="250" width="3" height="1" fill="#00b5eb"/>
<rect x="104" y="251" width="3" height="1" fill="#80ffb4"/>
<rect x="104" y="252" width="3" height="3" fill="#00b5eb"/>
<rect x="104" y="255" width="3" height="1" fill="#80ffb4"/>
<rect x="104" y="256" width="3" height="1" fill="#ff0000"/>
<rect x="104" y="257" width="3" height="1" fill="#00b5eb"/>
<rect x="104" y="258" width="3" height="1" fill="#80ffb4"/>
<rect x="104" y="259" width="3" height="1" fill="#00b5eb"/>
<rect x="104" y="260" width="3" height="1" fill="#80ffb4"/>
<rect x="104" y="261" width="3" height="1" fill="#ffb462"/>
<rect x="104" y="262" width="3" height="2" fill="#00b5eb"/>
<rect x="104" y="264" width="3" height="4" fill="#80ffb4"/>
<rect x="104" y="268" width="3" height="1" fill="#00b5eb"/>
<rect x="104" y="272" width="3" height="3" fill="#00b5eb"/>
<rect x="110" y="245" width="3" height="1" fill="#00b5eb"/>
<rect x="110" y="246" width="3" height="1" fill="#ffb462"/>
<rect x="110" y="247" width="3" height="1" fill="#00b5eb"/>
<rect x="110" y="248" width="3" height="1" fill="#ffb462"/>
<rect x="110" y="249" width="3" height="2" fill="#00b5eb"/>
<rect x="110" y="251" width="3" height="2" fill="#ffb462"/>
<rect x="110" y="253" width="3" height="3" fill="#80ffb4"/>
<rect x="110" y="256" width="3" height="1" fill="#ff0000"/>
<rect x="110" y="257" width="3" height="1" fill="#00b5eb"/>
<rect x="110" y="258" width="3" height="1" fill="#80ffb4"/>
<rect x="110" y="259" width="3" height="1" fill="#00b5eb"/>
<rect x="110" y="260" width="3" height="1" fill="#80ffb4"/>
<rect x="110" y="261" width="3" height="1" fill="#ffb462"/>
<rect x="110" y="262" width="3" height="1" fill="#00b5eb"/>
<rect x="110" y="264" width="3" height="3" fill="#80ffb4"/>
<rect x="110" y="267" width="3" height="1" fill="#00b5eb"/>
<rect x="110" y="272" width="3" height="3" fill="#00b5eb"/>
<rect x="116" y="245" width="3" height="5" fill="#00b5eb"/>
<rect x="116" y="253" width="3" height="4" fill="#ffb462"/>
<rect x="116" y="257" width="3" height="7" fill="#00b5eb"/>
<rect x="122" y="245" width="3" height="1" fill="#ff0000"/>
<rect x="122" y="246" width="3" height="7" fill="#00b5eb"/>
<rect x="122" y="253" width="3" height="4" fill="#80ffb4"/>
<rect x="122" y="257" width="3" height="1" fill="#ff0000"/>
<rect x="122" y="258" width="3" height="2" fill="#00b5eb"/>
<rect x="122" y="260" width="3" height="2" fill="#80ffb4"/>
<rect x="122" y="262" width="3" height="1" fill="#ff0000"/>
<rect x="122" y="263" width="3" height="1" fill="#ffb462"/>
<rect x="122" y="266" width="3" height="3" fill="#00b5eb"/>
<rect x="124" y="262" width="3" height="3" fill="#00b5eb"/>
<rect x="128" y="245" width="3" height="1" fill="#80ffb4"/>
<rect x="128" y="246" width="3" height="1" fill="#ffb462"/>
<rect x="128" y="247" width="3" height="2" fill="#00b5eb"/>
<rect x="128" y="251" width="3" height="4" fill="#00b5eb"/>
<rect x="128" y="255" width="3" height="3" fill="#ff0000"/>
<rect x="128" y="258" width="3" height="1" fill="#80ffb4"/>
<rect x="128" y="259" width="3" height="1" fill="#ffb462"/>
<rect x="128" y="260" width="3" height="1" fill="#00b5eb"/>
<rect x="128" y="261" width="3" height="3" fill="#80ffb4"/>
<rect x="128" y="264" width="3" height="3" fill="#00b5eb"/>
<rect x="130" y="263" width="3" height="3" fill="#00b5eb"/>
<rect x="134" y="245" width="3" height="1" fill="#00b5eb"/>
<rect x="134" y="252" width="3" height="4" fill="#00b5eb"/>
<rect x="134" y="256" width="3" height="1" fill="#80ffb4"/>
<rect x="134" y="257" width="3" height="1" fill="#ff0000"/>
<rect x="134" y="258" width="3" height="5" fill="#00b5eb"/>
<rect x="134" y="252" width="3" height="3" fill="#80ffb4"/>
<rect x="134" y="255" width="3" height="1" fill="#00b5eb"/>
<rect x="134" y="256" width="3" height="1" fill="#80ffb4"/>
<rect x="134" y="257" width="3" height="1" fill="#ff0000"/>
<rect x="134" y="258" width="3" height="3" fill="#00b5eb"/>
<rect x="134" y="261" width="3" height="1" fill="#80ffb4"/>
<rect x="134" y="262" width="3" height="1" fill="#00b5eb"/>
<rect x="141" y="246" width="3" height="3" fill="#00b5eb"/>
<rect x="141" y="251" width="3" height="3" fill="#80ffb4"/>
<rect x="141" y="254" width="3" height="1" fill="#00b5eb"/>
<rect x="141" y="255" width="3" height="1" fill="#80ffb4"/>
<rect x="141" y="256" width="3" height="2" fill="#ff0000"/>
<rect x="141" y="258" width="3" height="1" fill="#00b5eb"/>
<rect x="141" y="259" width="3" height="2" fill="#ff0000"/>
<rect x="141" y="261" width="3" height="2" fill="#80ffb4"/>
<rect x="141" y="264" width="3" height="4" fill="#00b5eb"/>
<rect x="141" y="268" width="3" height="1" fill="#ffb462"/>
<rect x="147" y="245" width="3" height="1" fill="#ffb462"/>
<rect x="147" y="246" width="3" height="2" fill="#00b5eb"/>
<rect x="147" y="248" width="3" height="1" fill="#ff0000"/>
<rect x="147" y="249" width="3" height="1" fill="#00b5eb"/>
<rect x="147" y="250" width="3" height="1" fill="#ff0000"/>
<rect x="147" y="251" width="3" height="4" fill="#80ffb4"/>
<rect x="147" y="255" width="3" height="1" fill="#ffb462"/>
<rect x="147" y="256" width="3" height="1" fill="#80ffb4"/>
<rect x="147" y="257" width="3" height="3" fill="#00b5eb"/>
<rect x="153" y="245" width="3" height="2" fill="#ffb462"/>
<rect x="153" y="247" width="3" height="3" fill="#00b5eb"/>
<rect x="153" y="250" width="3" height="2" fill="#ff0000"/>
<rect x="153" y="252" width="3" height="1" fill="#80ffb4"/>
<rect x="153" y="253" width="3" height="1" fill="#ffb462"/>
<rect x="153" y="254" width="3" height="3" fill="#00b5eb"/>
<rect x="153" y="257" width="3" height="2" fill="#80ffb4"/>
<rect x="153" y="259" width="3" height="1" fill="#ffb462"/>
<rect x="153" y="260" width="3" height="1" fill="#00b5eb"/>
<rect x="153" y="261" width="3" height="1" fill="#80ffb4"/>
<rect x="153" y="262" width="3" height="2" fill="#ff0000"/>
<rect x="153" y="264" width="3" height="1" fill="#00b5eb"/>
<rect x="153" y="265" width="3" height="2" fill="#80ffb4"/>
<rect x="153" y="267" width="3" height="1" fill="#ff0000"/>
<rect x="153" y="268" width="3" height="1" fill="#80ffb4"/>
<rect x="153" y="269" width="3" height="1" fill="#00b5eb"/>
<rect x="153" y="272" width="3" height="3" fill="#ffb462"/>
<rect x="159" y="245" width="3" height="1" fill="#ff0000"/>
<rect x="159" y="246" width="3" height="1" fill="#80ffb4"/>
<rect x="159" y="247" width="3" height="1" fill="#ff0000"/>
<rect x="159" y="248" width="3" height="1" fill="#00b5eb"/>
<rect x="159" y="249" width="3" height="2" fill="#80ffb4"/>
<rect x="159" y="251" width="3" height="1" fill="#ff0000"/>
<rect x="159" y="252" width="3" height="2" fill="#00b5eb"/>
<rect x="159" y="254" width="3" height="1" fill="#ffb462"/>
<rect x="159" y="255" width="3" height="1" fill="#80ffb4"/>
<rect x="159" y="256" width="3" height="2" fill="#ffb462"/>
<rect x="159" y="258" width="3" height="2" fill="#00b5eb"/>
<rect x="159" y="260" width="3" height="2" fill="#ff0000"/>
<rect x="159" y="262" width="3" height="1" fill="#00b5eb"/>
<rect x="159" y="263" width="3" height="5" fill="#ff0000"/>
<rect x="159" y="268" width="3" height="1" fill="#ffb462"/>
<rect x="159" y="274" width="3" height="1" fill="#00b5eb"/>
<rect x="165" y="245" width="3" height="1" fill="#80ffb4"/>
<rect x="165" y="246" width="3" height="1" fill="#00b5eb"/>
<rect x="165" y="247" width="3" height="1" fill="#80ffb4"/>
<rect x="165" y="248" width="3" height="2" fill="#00b5eb"/>
<rect x="165" y="250" width="3" height="2" fill="#80ffb4"/>
<rect x="165" y="252" width="3" height="3" fill="#00b5eb"/>
<rect x="165" y="255" width="3" height="1" fill="#80ffb4"/>
<rect x="165" y="256" width="3" height="1" fill="#ffb462"/>
<rect x="165" y="257" width="3" height="1" fill="#00b5eb"/>
<rect x="165" y="258" width="3" height="2" fill="#80ffb4"/>
<rect x="165" y="260" width="3" height="1" fill="#00b5eb"/>
<rect x="165" y="261" width="3" height="2" fill="#ffb462"/>
<rect x="165" y="263" width="3" height="1" fill="#00b5eb"/>
<rect x="165" y="264" width="3" height="3" fill="#80ffb4"/>
<rect x="165" y="267" width="3" height="2" fill="#00b5eb"/>
<rect x="165" y="272" width="3" height="3" fill="#00b5eb"/>
<rect x="171" y="245" width="3" height="2" fill="#00b5eb"/>
<rect x="171" y="247" width="3" height="3" fill="#80ffb4"/>
<rect x="171" y="250" width="3" height="1" fill="#00b5eb"/>
<rect x="171" y="251" width="3" height="1" fill="#80ffb4"/>
<rect x="171" y="252" width="3" height="1" fill="#ffb462"/>
<rect x="171" y="253" width="3" height="1" fill="#00b5eb"/>
<rect x="171" y="254" width="3" height="1" fill="#80ffb4"/>
<rect x="171" y="255" width="3" height="3" fill="#ff0000"/>
<rect x="171" y="258" width="3" height="1" fill="#00b5eb"/>
<rect x="171" y="259" width="3" height="1" fill="#ff0000"/>
<rect x="171" y="260" width="3" height="1" fill="#00b5eb"/>
<rect x="171" y="261" width="3" height="1" fill="#ff0000"/>
<rect x="171" y="262" width="3" height="1" fill="#80ffb4"/>
<rect x="171" y="263" width="3" height="1" fill="#ff0000"/>
<rect x="171" y="264" width="3" height="3" fill="#80ffb4"/>
<rect x="171" y="267" width="3" height="2" fill="#ffb462"/>
<rect x="177" y="245" width="3" height="1" fill="#ffb462"/>
<rect x="177" y="246" width="3" height="5" fill="#00b5eb"/>
<rect x="177" y="251" width="3" height="1" fill="#ffb462"/>
<rect x="177" y="252" width="3" height="1" fill="#80ffb4"/>
<rect x="177" y="254" width="3" height="3" fill="#80ffb4"/>
<rect x="177" y="257" width="3" height="1" fill="#00b5eb"/>
<rect x="177" y="258" width="3" height="2" fill="#80ffb4"/>
<rect x="177" y="260" width="3" height="1" fill="#00b5eb"/>
<rect x="177" y="261" width="3" height="3" fill="#ffb462"/>
<rect x="177" y="264" width="3" height="6" fill="#00b5eb"/>
<rect x="184" y="245" width="3" height="1" fill="#80ffb4"/>
<rect x="184" y="252" width="3" height="4" fill="#00b5eb"/>
<rect x="184" y="257" width="3" height="3" fill="#80ffb4"/>
<rect x="184" y="260" width="3" height="1" fill="#00b5eb"/>
<rect x="184" y="261" width="3" height="2" fill="#80ffb4"/>
<rect x="184" y="263" width="3" height="6" fill="#00b5eb"/>
<rect x="190" y="245" width="3" height="1" fill="#80ffb4"/>
<rect x="190" y="246" width="3" height="2" fill="#ffb462"/>
<rect x="190" y="248" width="3" height="2" fill="#00b5eb"/>
<rect x="190" y="250" width="3" height="1" fill="#80ffb4"/>
<rect x="190" y="251" width="3" height="3" fill="#00b5eb"/>
<rect x="190" y="254" width="3" height="1" fill="#ffb462"/>
<rect x="190" y="255" width="3" height="2" fill="#80ffb4"/>
<rect x="190" y="257" width="3" height="4" fill="#00b5eb"/>
<rect x="196" y="248" width="3" height="4" fill="#00b5eb"/>
<rect x="196" y="253" width="3" height="3" fill="#00b5eb"/>
<rect x="196" y="256" width="3" height="1" fill="#ffb462"/>
<rect x="196" y="257" width="3" height="3" fill="#80ffb4"/>
<rect x="196" y="260" width="3" height="1" fill="#00b5eb"/>
<rect x="196" y="261" width="3" height="1" fill="#80ffb4"/>
<rect x="196" y="262" width="3" height="5" fill="#00b5eb"/>
<rect x="196" y="267" width="3" height="1" fill="#80ffb4"/>
<rect x="196" y="268" width="3" height="3" fill="#00b5eb"/>
<rect x="202" y="253" width="3" height="3" fill="#80ffb4"/>
<rect x="202" y="256" width="3" height="1" fill="#ffb462"/>
<rect x="202" y="257" width="3" height="3" fill="#80ffb4"/>
<rect x="202" y="260" width="3" height="1" fill="#00b5eb"/>
<rect x="202" y="261" width="3" height="1" fill="#80ffb4"/>
<rect x="202" y="262" width="3" height="2" fill="#00b5eb"/>
<rect x="208" y="257" width="3" height="3" fill="#00b5eb"/>
<rect x="220" y="267" width="3" height="3" fill="#00b5eb"/>
<rect x="245" y="256" width="3" height="3" fill="#00b5eb"/>
<rect x="85" y="272" width="3" height="5" fill="#80ffb4"/>
<rect x="91" y="272" width="3" height="5" fill="#80ffb4"/>
<rect x="97" y="272" width="3" height="5" fill="#00b5eb"/>
<rect x="97" y="279" width="3" height="3" fill="#00b5eb"/>
<rect x="97" y="282" width="3" height="2" fill="#80ffb4"/>
<rect x="97" y="284" width="3" height="3" fill="#ffb462"/>
<rect x="97" y="293" width="3" height="4" fill="#00b5eb"/>
<rect x="97" y="297" width="3" height="1" fill="#80ffb4"/>
<rect x="97" y="298" width="3" height="1" fill="#00b5eb"/>
<rect x="79" y="284" width="3" height="4" fill="#00b5eb"/>
<rect x="85" y="284" width="3" height="3" fill="#00b5eb"/>
<rect x="110" y="284" width="3" height="3" fill="#80ffb4"/>
<rect x="110" y="287" width="3" height="1" fill="#00b5eb"/>
<rect x="116" y="283" width="3" height="3" fill="#00b5eb"/>
<rect x="79" y="291" width="3" height="3" fill="#00b5eb"/>
<rect x="85" y="292" width="3" height="3" fill="#00b5eb"/>
<rect x="91" y="292" width="3" height="3" fill="#00b5eb"/>
<rect x="104" y="294" width="3" height="3" fill="#00b5eb"/>
<rect x="110" y="294" width="3" height="4" fill="#00b5eb"/>
<rect x="91" y="304" width="3" height="3" fill="#00b5eb"/>
<rect x="97" y="304" width="3" height="3" fill="#00b5eb"/>
<rect x="100" y="303" width="3" height="3" fill="#00b5eb"/>
<rect x="110" y="306" width="3" height="3" fill="#00b5eb"/>
<rect x="153" y="275" width="3" height="2" fill="#00b5eb"/>
<rect x="153" y="277" width="3" height="2" fill="#80ffb4"/>
<rect x="153" y="279" width="3" height="3" fill="#ffb462"/>
<rect x="153" y="282" width="3" height="1" fill="#ff0000"/>
<rect x="153" y="283" width="3" height="2" fill="#00b5eb"/>
<rect x="153" y="285" width="3" height="1" fill="#80ffb4"/>
<rect x="153" y="292" width="3" height="3" fill="#00b5eb"/>
<rect x="159" y="274" width="3" height="3" fill="#00b5eb"/>
<rect x="165" y="276" width="3" height="1" fill="#80ffb4"/>
<rect x="216" y="316" width="3" height="3" fill="#00b5eb"/>
<rect x="321" y="295" width="3" height="3" fill="#00b5eb"/>
<rect x="325" y="298" width="3" height="3" fill="#00b5eb"/>
<rect x="308" y="300" width="3" height="5" fill="#00b5eb"/>
<rect x="300" y="307" width="3" height="3" fill="#00b5eb"/>
<rect x="302" y="315" width="3" height="3" fill="#00b5eb"/>
<rect x="296" y="323" width="3" height="3" fill="#00b5eb"/>
<rect x="313" y="322" width="5" height="3" fill="#00b5eb"/>
<rect x="339" y="297" width="3" height="3" fill="#00b5eb"/>
<rect x="337" y="298" width="3" height="4" fill="#00b5eb"/>
<rect x="382" y="296" width="3" height="3" fill="#00b5eb"/>
<rect x="337" y="308" width="3" height="3" fill="#00b5eb"/>
<rect x="349" y="308" width="3" height="3" fill="#00b5eb"/>
<rect x="368" y="311" width="3" height="3" fill="#00b5eb"/>
<rect x="386" y="310" width="3" height="5" fill="#00b5eb"/>
<rect x="399" y="316" width="3" height="3" fill="#00b5eb"/>
<rect x="356" y="319" width="3" height="3" fill="#00b5eb"/>
<rect x="362" y="318" width="3" height="3" fill="#00b5eb"/>
<rect x="376" y="320" width="3" height="3" fill="#00b5eb"/>
<rect x="388" y="319" width="3" height="3" fill="#00b5eb"/>
<rect x="417" y="321" width="3" height="3" fill="#00b5eb"/>
<rect x="343" y="323" width="3" height="3" fill="#00b5eb"/>
<rect x="370" y="324" width="3" height="3" fill="#80ffb4"/>
<rect x="450" y="316" width="3" height="3" fill="#00b5eb"/>
<rect x="524" y="312" width="3" height="3" fill="#00b5eb"/>
<rect x="560" y="260" width="3" height="3" fill="#00b5eb"/>
<rect x="560" y="277" width="3" height="3" fill="#00b5eb"/>
<rect x="567" y="256" width="3" height="1" fill="#00b5eb"/>
<rect x="567" y="257" width="3" height="1" fill="#80ffb4"/>
<rect x="567" y="258" width="3" height="2" fill="#ffb462"/>
<rect x="567" y="260" width="3" height="2" fill="#80ffb4"/>
<rect x="567" y="262" width="3" height="2" fill="#ff0000"/>
<rect x="567" y="264" width="3" height="3" fill="#00b5eb"/>
<rect x="571" y="259" width="3" height="4" fill="#00b5eb"/>
<rect x="573" y="255" width="3" height="1" fill="#ff0000"/>
<rect x="573" y="256" width="3" height="1" fill="#ffb462"/>
<rect x="573" y="257" width="3" height="2" fill="#80ffb4"/>
<rect x="573" y="259" width="3" height="1" fill="#ffb462"/>
<rect x="573" y="260" width="3" height="1" fill="#ff0000"/>
<rect x="573" y="261" width="3" height="1" fill="#ffb462"/>
<rect x="579" y="264" width="3" height="4" fill="#00b5eb"/>
<rect x="583" y="256" width="3" height="4" fill="#00b5eb"/>
<rect x="583" y="260" width="3" height="1" fill="#80ffb4"/>
<rect x="583" y="261" width="3" height="2" fill="#00b5eb"/>
<rect x="589" y="255" width="5" height="8" fill="#00b5eb"/>
<rect x="589" y="256" width="2" height="1" fill="#ffb462"/>
<rect x="591" y="263" width="3" height="4" fill="#80ffb4"/>
<rect x="591" y="267" width="3" height="1" fill="#00b5eb"/>
<rect x="595" y="255" width="3" height="1" fill="#80ffb4"/>
<rect x="595" y="256" width="3" height="1" fill="#ffb462"/>
<rect x="595" y="257" width="3" height="4" fill="#00b5eb"/>
<rect x="595" y="261" width="3" height="2" fill="#80ffb4"/>
<rect x="595" y="263" width="3" height="1" fill="#00b5eb"/>
<rect x="595" y="266" width="3" height="3" fill="#00b5eb"/>
<rect x="601" y="255" width="3" height="2" fill="#80ffb4"/>
<rect x="601" y="257" width="3" height="4" fill="#00b5eb"/>
<rect x="601" y="261" width="3" height="1" fill="#ff0000"/>
<rect x="601" y="262" width="3" height="1" fill="#ffb462"/>
<rect x="601" y="263" width="3" height="1" fill="#00b5eb"/>
<rect x="601" y="264" width="3" height="3" fill="#80ffb4"/>
<rect x="608" y="255" width="3" height="2" fill="#00b5eb"/>
<rect x="608" y="257" width="3" height="3" fill="#80ffb4"/>
<rect x="608" y="260" width="3" height="2" fill="#00b5eb"/>
<rect x="608" y="262" width="3" height="2" fill="#ffb462"/>
<rect x="608" y="264" width="3" height="3" fill="#00b5eb"/>
<rect x="614" y="255" width="3" height="1" fill="#ff0000"/>
<rect x="614" y="256" width="3" height="12" fill="#00b5eb"/>
<rect x="577" y="272" width="3" height="4" fill="#00b5eb"/>
<rect x="577" y="276" width="3" height="3" fill="#80ffb4"/>
<rect x="577" y="279" width="3" height="1" fill="#00b5eb"/>
<rect x="591" y="274" width="3" height="3" fill="#00b5eb"/>
<rect x="565" y="281" width="3" height="7" fill="#00b5eb"/>
<rect x="567" y="282" width="3" height="3" fill="#00b5eb"/>
<rect x="571" y="281" width="3" height="3" fill="#00b5eb"/>
<rect x="573" y="281" width="3" height="3" fill="#80ffb4"/>
<rect x="573" y="286" width="3" height="3" fill="#00b5eb"/>
<rect x="577" y="285" width="5" height="4" fill="#00b5eb"/>
<rect x="585" y="280" width="3" height="3" fill="#00b5eb"/>
<rect x="583" y="281" width="3" height="3" fill="#00b5eb"/>
<rect x="583" y="284" width="3" height="3" fill="#80ffb4"/>
<rect x="583" y="287" width="3" height="3" fill="#00b5eb"/>
<rect x="595" y="281" width="3" height="5" fill="#00b5eb"/>
<rect x="614" y="280" width="3" height="3" fill="#00b5eb"/>
<rect x="565" y="292" width="3" height="3" fill="#00b5eb"/>
<rect x="570" y="294" width="3" height="3" fill="#00b5eb"/>
<rect x="579" y="292" width="3" height="3" fill="#80ffb4"/>
<rect x="601" y="294" width="3" height="3" fill="#00b5eb"/>
<rect x="614" y="250" width="3" height="3" fill="#00b5eb"/>
<rect x="614" y="253" width="3" height="2" fill="#80ffb4"/>
<rect x="614" y="255" width="3" height="1" fill="#00b5eb"/>
<rect x="614" y="256" width="3" height="1" fill="#ff0000"/>
<rect x="614" y="257" width="3" height="1" fill="#00b5eb"/>
<rect x="614" y="258" width="3" height="2" fill="#ffb462"/>
<rect x="614" y="260" width="3" height="4" fill="#80ffb4"/>
<rect x="614" y="264" width="3" height="4" fill="#00b5eb"/>
<rect x="620" y="250" width="3" height="1" fill="#80ffb4"/>
<rect x="620" y="251" width="3" height="2" fill="#00b5eb"/>
<rect x="620" y="253" width="3" height="2" fill="#ffb462"/>
<rect x="620" y="255" width="3" height="3" fill="#00b5eb"/>
<rect x="620" y="258" width="3" height="1" fill="#ffb462"/>
<rect x="620" y="259" width="3" height="2" fill="#00b5eb"/>
<rect x="620" y="261" width="3" height="1" fill="#ffb462"/>
<rect x="620" y="262" width="3" height="1" fill="#00b5eb"/>
<rect x="620" y="263" width="3" height="1" fill="#80ffb4"/>
<rect x="620" y="264" width="3" height="2" fill="#00b5eb"/>
<rect x="620" y="266" width="3" height="1" fill="#ffb462"/>
<rect x="620" y="267" width="3" height="1" fill="#80ffb4"/>
<rect x="620" y="268" width="3" height="1" fill="#ff0000"/>
<rect x="620" y="269" width="3" height="2" fill="#00b5eb"/>
<rect x="620" y="271" width="3" height="1" fill="#80ffb4"/>
<rect x="620" y="272" width="3" height="2" fill="#00b5eb"/>
<rect x="620" y="274" width="3" height="1" fill="#80ffb4"/>
<rect x="620" y="275" width="3" height="2" fill="#00b5eb"/>
<rect x="626" y="253" width="3" height="3" fill="#00b5eb"/>
<rect x="626" y="257" width="3" height="3" fill="#80ffb4"/>
<rect x="626" y="260" width="3" height="3" fill="#00b5eb"/>
<rect x="626" y="263" width="3" height="1" fill="#ffb462"/>
<rect x="626" y="264" width="3" height="1" fill="#00b5eb"/>
<rect x="626" y="265" width="3" height="2" fill="#80ffb4"/>
<rect x="626" y="267" width="3" height="2" fill="#00b5eb"/>
<rect x="626" y="272" width="3" height="3" fill="#00b5eb"/>
<rect x="632" y="258" width="3" height="3" fill="#ffb462"/>
<rect x="632" y="261" width="3" height="1" fill="#ff0000"/>
<rect x="632" y="262" width="3" height="1" fill="#ffb462"/>
<rect x="632" y="263" width="3" height="4" fill="#ff0000"/>
<rect x="632" y="267" width="3" height="2" fill="#80ffb4"/>
<rect x="632" y="272" width="3" height="3" fill="#00b5eb"/>
<rect x="638" y="253" width="3" height="3" fill="#00b5eb"/>
<rect x="638" y="256" width="3" height="1" fill="#ff0000"/>
<rect x="638" y="257" width="3" height="1" fill="#00b5eb"/>
<rect x="638" y="258" width="3" height="1" fill="#80ffb4"/>
<rect x="638" y="259" width="3" height="1" fill="#ff0000"/>
<rect x="638" y="260" width="3" height="1" fill="#80ffb4"/>
<rect x="638" y="261" width="3" height="1" fill="#00b5eb"/>
<rect x="638" y="262" width="3" height="1" fill="#80ffb4"/>
<rect x="638" y="263" width="3" height="1" fill="#00b5eb"/>
<rect x="638" y="264" width="3" height="3" fill="#ffb462"/>
<rect x="638" y="272" width="3" height="3" fill="#00b5eb"/>
<rect x="638" y="276" width="3" height="3" fill="#80ffb4"/>
<rect x="644" y="253" width="3" height="14" fill="#00b5eb"/>
<rect x="651" y="252" width="3" height="3" fill="#80ffb4"/>
<rect x="651" y="255" width="3" height="2" fill="#ff0000"/>
<rect x="651" y="257" width="3" height="2" fill="#80ffb4"/>
<rect x="651" y="259" width="3" height="1" fill="#ff0000"/>
<rect x="651" y="260" width="3" height="1" fill="#80ffb4"/>
<rect x="651" y="261" width="3" height="2" fill="#ff0000"/>
<rect x="651" y="263" width="3" height="2" fill="#80ffb4"/>
<rect x="651" y="265" width="3" height="2" fill="#ff0000"/>
<rect x="651" y="267" width="3" height="1" fill="#80ffb4"/>
<rect x="651" y="268" width="3" height="1" fill="#00b5eb"/>
<rect x="651" y="269" width="3" height="4" fill="#80ffb4"/>
<rect x="651" y="273" width="3" height="2" fill="#ff0000"/>
<rect x="651" y="275" width="3" height="3" fill="#80ffb4"/>
<rect x="653" y="261" width="3" height="3" fill="#00b5eb"/>
<rect x="657" y="251" width="3" height="3" fill="#00b5eb"/>
<rect x="657" y="254" width="3" height="1" fill="#80ffb4"/>
<rect x="657" y="255" width="3" height="1" fill="#00b5eb"/>
<rect x="657" y="256" width="3" height="1" fill="#ff0000"/>
<rect x="657" y="257" width="3" height="1" fill="#00b5eb"/>
<rect x="657" y="258" width="3" height="1" fill="#ff0000"/>
<rect x="657" y="259" width="3" height="1" fill="#ffb462"/>
<rect x="657" y="260" width="3" height="1" fill="#ff0000"/>
<rect x="657" y="261" width="3" height="1" fill="#00b5eb"/>
<rect x="657" y="262" width="3" height="2" fill="#ff0000"/>
<rect x="657" y="264" width="3" height="1" fill="#80ffb4"/>
<rect x="657" y="265" width="3" height="2" fill="#ff0000"/>
<rect x="657" y="267" width="3" height="2" fill="#80ffb4"/>
<rect x="657" y="269" width="3" height="6" fill="#00b5eb"/>
<rect x="663" y="254" width="3" height="3" fill="#ff0000"/>
<rect x="663" y="257" width="3" height="2" fill="#00b5eb"/>
<rect x="663" y="259" width="3" height="1" fill="#ffb462"/>
<rect x="663" y="260" width="3" height="3" fill="#80ffb4"/>
<rect x="663" y="263" width="3" height="1" fill="#00b5eb"/>
<rect x="663" y="264" width="3" height="4" fill="#80ffb4"/>
<rect x="663" y="268" width="3" height="1" fill="#00b5eb"/>
<rect x="626" y="280" width="3" height="3" fill="#00b5eb"/>
<rect x="620" y="280" width="3" height="6" fill="#80ffb4"/>
<rect x="620" y="286" width="3" height="1" fill="#ff0000"/>
<rect x="620" y="287" width="3" height="1" fill="#ffb462"/>
<rect x="620" y="288" width="3" height="3" fill="#00b5eb"/>
<rect x="620" y="291" width="3" height="3" fill="#ffb462"/>
<rect x="620" y="294" width="3" height="1" fill="#00b5eb"/>
<rect x="620" y="295" width="3" height="1" fill="#80ffb4"/>
<rect x="620" y="296" width="3" height="1" fill="#ff0000"/>
<rect x="620" y="297" width="3" height="1" fill="#80ffb4"/>
<rect x="620" y="298" width="3" height="2" fill="#00b5eb"/>
<rect x="616" y="294" width="3" height="3" fill="#00b5eb"/>
<rect x="616" y="299" width="3" height="3" fill="#00b5eb"/>
<rect x="638" y="280" width="3" height="3" fill="#80ffb4"/>
<rect x="638" y="283" width="3" height="1" fill="#ffb462"/>
<rect x="638" y="284" width="3" height="1" fill="#00b5eb"/>
<rect x="638" y="285" width="3" height="1" fill="#80ffb4"/>
<rect x="638" y="286" width="3" height="1" fill="#ff0000"/>
<rect x="638" y="287" width="3" height="1" fill="#80ffb4"/>
<rect x="638" y="288" width="3" height="6" fill="#00b5eb"/>
<rect x="638" y="295" width="3" height="3" fill="#00b5eb"/>
<rect x="638" y="298" width="3" height="1" fill="#ffb462"/>
<rect x="651" y="281" width="3" height="3" fill="#00b5eb"/>
<rect x="651" y="284" width="3" height="1" fill="#ffb462"/>
<rect x="651" y="285" width="3" height="5" fill="#00b5eb"/>
<rect x="651" y="293" width="3" height="3" fill="#80ffb4"/>
<rect x="657" y="282" width="3" height="3" fill="#00b5eb"/>
<rect x="657" y="285" width="3" height="1" fill="#80ffb4"/>
<rect x="657" y="286" width="3" height="1" fill="#00b5eb"/>
<rect x="657" y="287" width="3" height="1" fill="#ffb462"/>
<rect x="657" y="288" width="3" height="2" fill="#00b5eb"/>
<rect x="657" y="290" width="3" height="5" fill="#ff0000"/>
<rect x="657" y="295" width="3" height="1" fill="#ffb462"/>
<rect x="657" y="296" width="3" height="4" fill="#00b5eb"/>
<rect x="657" y="304" width="3" height="3" fill="#00b5eb"/>
<rect x="663" y="292" width="3" height="4" fill="#00b5eb"/>
<rect x="663" y="296" width="3" height="2" fill="#ffb462"/>
<rect x="663" y="298" width="3" height="1" fill="#80ffb4"/>
<rect x="565" y="294" width="5" height="5" fill="#00b5eb"/>
<rect x="577" y="296" width="3" height="3" fill="#00b5eb"/>
<rect x="583" y="295" width="3" height="3" fill="#00b5eb"/>
<rect x="585" y="296" width="3" height="3" fill="#00b5eb"/>
<rect x="589" y="295" width="5" height="3" fill="#00b5eb"/>
<rect x="595" y="295" width="3" height="4" fill="#00b5eb"/>
<rect x="601" y="294" width="3" height="4" fill="#00b5eb"/>
<rect x="554" y="299" width="3" height="3" fill="#00b5eb"/>
<rect x="565" y="305" width="3" height="3" fill="#80ffb4"/>
<rect x="567" y="305" width="3" height="3" fill="#00b5eb"/>
<rect x="620" y="309" width="3" height="2" fill="#00b5eb"/>
<rect x="620" y="308" width="3" height="1" fill="#ffb462"/>
<rect x="620" y="305" width="3" height="3" fill="#00b5eb"/>
<rect x="622" y="306" width="3" height="3" fill="#00b5eb"/>
<rect x="591" y="312" width="3" height="3" fill="#00b5eb"/>
<rect x="608" y="312" width="5" height="3" fill="#00b5eb"/>
<rect x="622" y="313" width="3" height="3" fill="#00b5eb"/>
<rect x="626" y="314" width="3" height="3" fill="#00b5eb"/>
<rect x="589" y="319" width="3" height="3" fill="#00b5eb"/>
<rect x="626" y="318" width="3" height="3" fill="#00b5eb"/>
<rect x="620" y="320" width="3" height="3" fill="#00b5eb"/>
<rect x="614" y="321" width="3" height="3" fill="#00b5eb"/>
<rect x="657" y="304" width="3" height="4" fill="#00b5eb"/>
<rect x="657" y="312" width="3" height="3" fill="#00b5eb"/>
<rect x="644" y="305" width="3" height="3" fill="#00b5eb"/>
<rect x="663" y="306" width="3" height="3" fill="#00b5eb"/>
<rect x="651" y="311" width="3" height="3" fill="#00b5eb"/>
<rect x="638" y="313" width="3" height="3" fill="#00b5eb"/>
<rect x="653" y="324" width="3" height="3" fill="#00b5eb"/>
<rect x="450" y="82" width="3" height="3" fill="#00b5eb"/>
</g>
<g stroke="#000" stroke-width="1" shape-rendering="crispEdges" fill="none">
<rect x="78.5" y="57.5" width="590" height="278"/>
<line x1="74" y1="335.5" x2="78" y2="335.5"/><line x1="668" y1="335.5" x2="673" y2="335.5"/>
<line x1="74" y1="315.5" x2="78" y2="315.5"/><line x1="668" y1="315.5" x2="673" y2="315.5"/>
<line x1="74" y1="295.5" x2="78" y2="295.5"/><line x1="668" y1="295.5" x2="673" y2="295.5"/>
<line x1="74" y1="275.5" x2="78" y2="275.5"/><line x1="668" y1="275.5" x2="673" y2="275.5"/>
<line x1="74" y1="256.5" x2="78" y2="256.5"/><line x1="668" y1="256.5" x2="673" y2="256.5"/>
<line x1="74" y1="236.5" x2="78" y2="236.5"/><line x1="668" y1="236.5" x2="673" y2="236.5"/>
<line x1="74" y1="216.5" x2="78" y2="216.5"/><line x1="668" y1="216.5" x2="673" y2="216.5"/>
<line x1="74" y1="196.5" x2="78" y2="196.5"/><line x1="668" y1="196.5" x2="673" y2="196.5"/>
<line x1="74" y1="176.5" x2="78" y2="176.5"/><line x1="668" y1="176.5" x2="673" y2="176.5"/>
<line x1="74" y1="156.5" x2="78" y2="156.5"/><line x1="668" y1="156.5" x2="673" y2="156.5"/>
<line x1="74" y1="136.5" x2="78" y2="136.5"/><line x1="668" y1="136.5" x2="673" y2="136.5"/>
<line x1="74" y1="117.5" x2="78" y2="117.5"/><line x1="668" y1="117.5" x2="673" y2="117.5"/>
<line x1="74" y1="97.5" x2="78" y2="97.5"/><line x1="668" y1="97.5" x2="673" y2="97.5"/>
<line x1="74" y1="77.5" x2="78" y2="77.5"/><line x1="668" y1="77.5" x2="673" y2="77.5"/>
<line x1="74" y1="57.5" x2="78" y2="57.5"/><line x1="668" y1="57.5" x2="673" y2="57.5"/>
<line x1="78.5" y1="335" x2="78.5" y2="340"/><line x1="78.5" y1="53" x2="78.5" y2="57"/>
<line x1="103.5" y1="335" x2="103.5" y2="338"/><line x1="103.5" y1="55" x2="103.5" y2="57"/>
<line x1="127.5" y1="335" x2="127.5" y2="340"/><line x1="127.5" y1="53" x2="127.5" y2="57"/>
<line x1="152.5" y1="335" x2="152.5" y2="338"/><line x1="152.5" y1="55" x2="152.5" y2="57"/>
<line x1="176.5" y1="335" x2="176.5" y2="340"/><line x1="176.5" y1="53" x2="176.5" y2="57"/>
<line x1="201.5" y1="335" x2="201.5" y2="338"/><line x1="201.5" y1="55" x2="201.5" y2="57"/>
<line x1="226.5" y1="335" x2="226.5" y2="340"/><line x1="226.5" y1="53" x2="226.5" y2="57"/>
<line x1="250.5" y1="335" x2="250.5" y2="338"/><line x1="250.5" y1="55" x2="250.5" y2="57"/>
<line x1="275.5" y1="335" x2="275.5" y2="340"/><line x1="275.5" y1="53" x2="275.5" y2="57"/>
<line x1="299.5" y1="335" x2="299.5" y2="338"/><line x1="299.5" y1="55" x2="299.5" y2="57"/>
<line x1="324.5" y1="335" x2="324.5" y2="340"/><line x1="324.5" y1="53" x2="324.5" y2="57"/>
<line x1="348.5" y1="335" x2="348.5" y2="338"/><line x1="348.5" y1="55" x2="348.5" y2="57"/>
<line x1="373.5" y1="335" x2="373.5" y2="340"/><line x1="373.5" y1="53" x2="373.5" y2="57"/>
<line x1="398.5" y1="335" x2="398.5" y2="338"/><line x1="398.5" y1="55" x2="398.5" y2="57"/>
<line x1="422.5" y1="335" x2="422.5" y2="340"/><line x1="422.5" y1="53" x2="422.5" y2="57"/>
<line x1="447.5" y1="335" x2="447.5" y2="338"/><line x1="447.5" y1="55" x2="447.5" y2="57"/>
<line x1="471.5" y1="335" x2="471.5" y2="340"/><line x1="471.5" y1="53" x2="471.5" y2="57"/>
<line x1="496.5" y1="335" x2="496.5" y2="338"/><line x1="496.5" y1="55" x2="496.5" y2="57"/>
<line x1="521.5" y1="335" x2="521.5" y2="340"/><line x1="521.5" y1="53" x2="521.5" y2="57"/>
<line x1="545.5" y1="335" x2="545.5" y2="338"/><line x1="545.5" y1="55" x2="545.5" y2="57"/>
<line x1="570.5" y1="335" x2="570.5" y2="340"/><line x1="570.5" y1="53" x2="570.5" y2="57"/>
<line x1="594.5" y1="335" x2="594.5" y2="338"/><line x1="594.5" y1="55" x2="594.5" y2="57"/>
<line x1="619.5" y1="335" x2="619.5" y2="340"/><line x1="619.5" y1="53" x2="619.5" y2="57"/>
<line x1="643.5" y1="335" x2="643.5" y2="338"/><line x1="643.5" y1="55" x2="643.5" y2="57"/>
<line x1="668.5" y1="335" x2="668.5" y2="340"/><line x1="668.5" y1="53" x2="668.5" y2="57"/>
</g>
<g shape-rendering="crispEdges">
<rect x="688" y="57" width="29" height="56" fill="#ff0000"/>
<rect x="688" y="113" width="29" height="56" fill="#ffb462"/>
<rect x="688" y="169" width="29" height="55" fill="#80ffb4"/>
<rect x="688" y="224" width="29" height="56" fill="#00b5eb"/>
<rect x="688" y="280" width="29" height="55" fill="#8000ff"/>
<rect x="687.5" y="57.5" width="29" height="278" fill="none" stroke="#000"/>
</g>
<g style="opacity:0.999">
<text x="61" y="340.0" text-anchor="end">1</text>
<text x="61" y="320.1" text-anchor="end">2</text>
<text x="61" y="300.3" text-anchor="end">3</text>
<text x="61" y="280.4" text-anchor="end">4</text>
<text x="61" y="260.6" text-anchor="end">5</text>
<text x="61" y="240.7" text-anchor="end">6</text>
<text x="61" y="220.9" text-anchor="end">7</text>
<text x="61" y="201.0" text-anchor="end">8</text>
<text x="61" y="181.1" text-anchor="end">9</text>
<text x="61" y="161.3" text-anchor="end">10</text>
<text x="61" y="141.4" text-anchor="end">11</text>
<text x="61" y="121.6" text-anchor="end">12</text>
<text x="61" y="101.7" text-anchor="end">13</text>
<text x="61" y="81.9" text-anchor="end">14</text>
<text x="61" y="62.0" text-anchor="end">15</text>
<text x="77.0" y="363" text-anchor="middle">00</text>
<text x="126.2" y="363" text-anchor="middle">02</text>
<text x="175.3" y="363" text-anchor="middle">04</text>
<text x="224.5" y="363" text-anchor="middle">06</text>
<text x="273.7" y="363" text-anchor="middle">08</text>
<text x="322.8" y="363" text-anchor="middle">10</text>
<text x="372.0" y="363" text-anchor="middle">12</text>
<text x="421.2" y="363" text-anchor="middle">14</text>
<text x="470.3" y="363" text-anchor="middle">16</text>
<text x="519.5" y="363" text-anchor="middle">18</text>
<text x="568.7" y="363" text-anchor="middle">20</text>
<text x="617.8" y="363" text-anchor="middle">22</text>
<text x="667.0" y="363" text-anchor="middle">00</text>
<text x="729.5" y="62.0">21</text>
<text x="729.5" y="117.6">18</text>
<text x="729.5" y="173.2">15</text>
<text x="729.5" y="228.8">12</text>
<text x="729.5" y="284.4">9</text>
<text x="729.5" y="340.0">6</text>
<text x="370" y="33" text-anchor="middle">2025-08-01</text>
<text x="372" y="391" text-anchor="middle">UT Time / hrs</text>
<text transform="translate(19,197) rotate(-90)" text-anchor="middle" textLength="123.5" lengthAdjust="spacingAndGlyphs">Frequency / MHz</text>
<text transform="translate(764,196.5) rotate(-90)" text-anchor="middle" textLength="223" lengthAdjust="spacingAndGlyphs">Signal to Noise Ratio SNR / dB</text>
</g>
</svg></body></html>
